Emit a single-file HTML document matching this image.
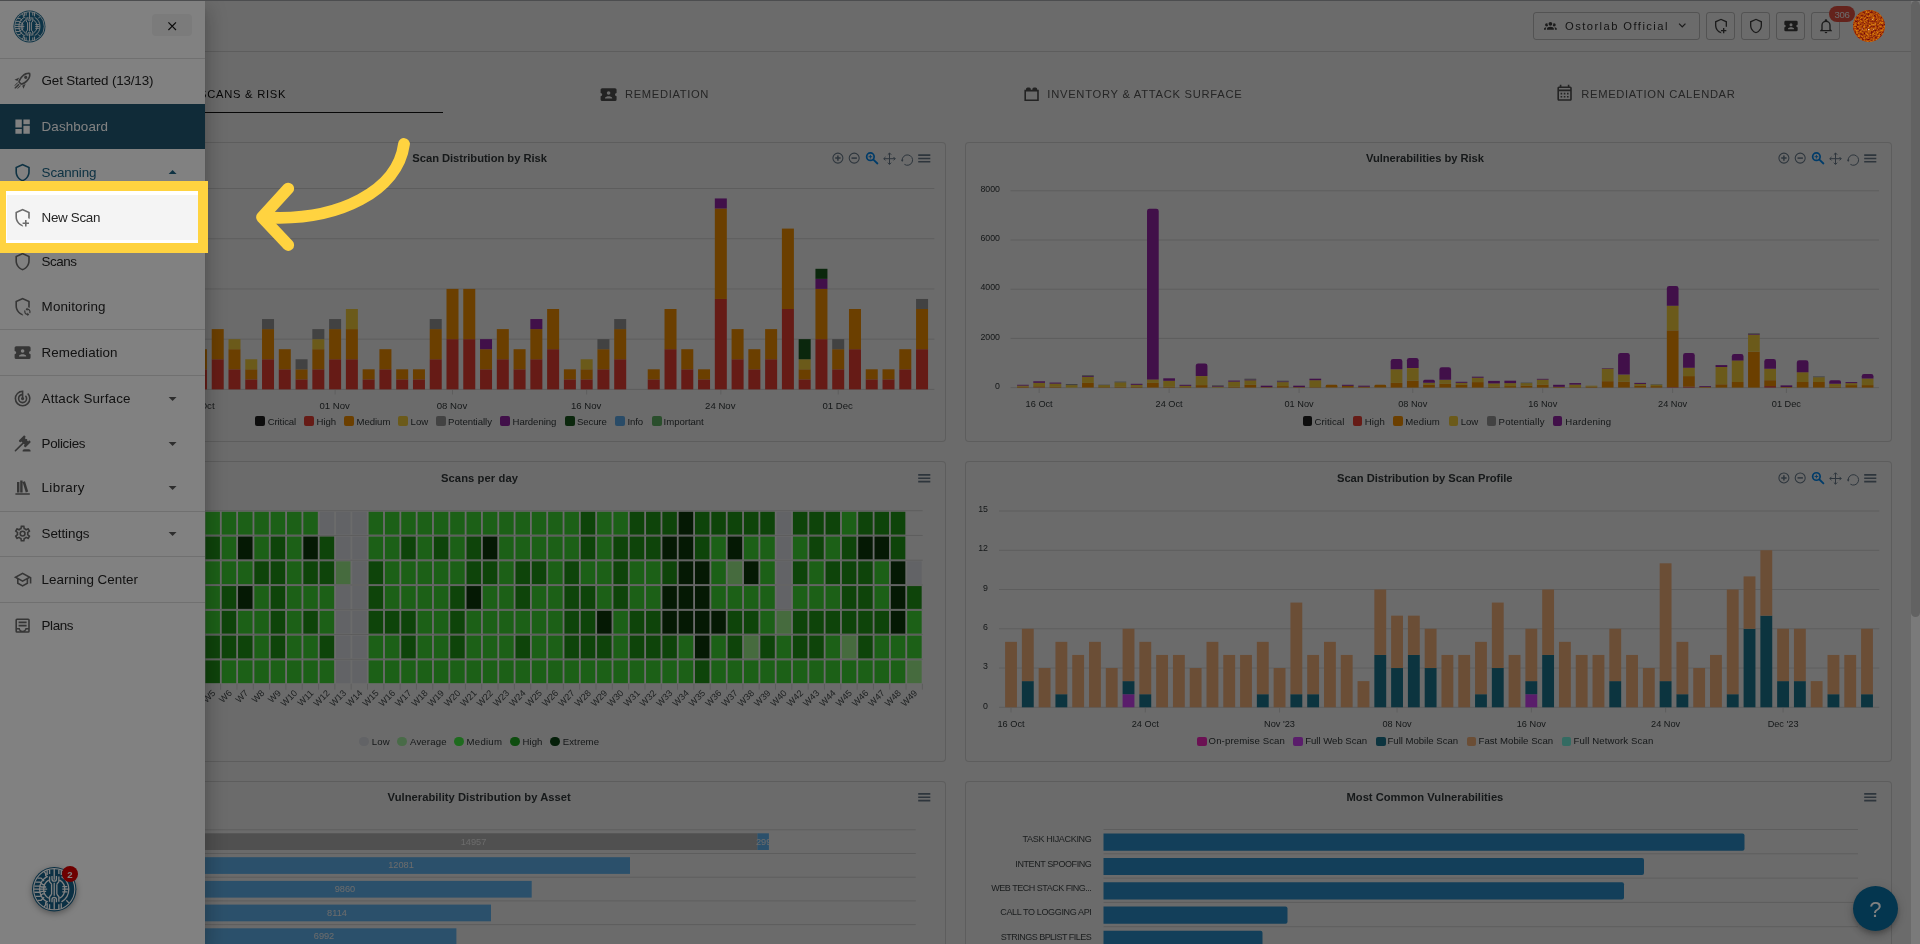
<!DOCTYPE html>
<html><head><meta charset="utf-8"><title>Dashboard</title>
<style>
html,body{margin:0;padding:0}
body{width:1920px;height:944px;overflow:hidden;position:relative;background:#fff;font-family:"Liberation Sans",sans-serif;}
div{box-sizing:content-box}
</style></head><body>
<div style="position:absolute;left:0;top:0;width:1911px;height:944px;overflow:hidden;background:#fff">
<div style="position:absolute;left:0.00px;top:0.00px;width:1911.00px;height:51.00px;background:#fff;"></div>
<div style="position:absolute;left:0.00px;top:51.00px;width:1911.00px;height:1.00px;background:rgba(0,0,0,.12);"></div>
<div style="position:absolute;left:1533px;top:11.5px;width:167px;height:28px;box-sizing:border-box;border:1px solid rgba(0,0,0,.22);border-radius:3px"></div>
<svg style="position:absolute;left:1544.10px;top:18.60px;" width="12.80" height="12.80" viewBox="0 0 24 24"><path fill="#424242" d="M12,5.5A3.5,3.5 0 0,1 15.5,9A3.5,3.5 0 0,1 12,12.5A3.5,3.5 0 0,1 8.5,9A3.5,3.5 0 0,1 12,5.5M5,8C5.56,8 6.08,8.15 6.53,8.42C6.38,9.85 6.8,11.27 7.66,12.38C7.16,13.34 6.16,14 5,14A3,3 0 0,1 2,11A3,3 0 0,1 5,8M19,8A3,3 0 0,1 22,11A3,3 0 0,1 19,14C17.84,14 16.84,13.34 16.34,12.38C17.2,11.27 17.62,9.85 17.47,8.42C17.92,8.15 18.44,8 19,8M5.5,18.25C5.5,16.18 8.41,14.5 12,14.5C15.59,14.5 18.5,16.18 18.5,18.25V20H5.5V18.25M0,20V18.5C0,17.11 1.89,15.94 4.45,15.6C3.86,16.28 3.5,17.22 3.5,18.25V20H0M24,20H20.5V18.25C20.5,17.22 20.14,16.28 19.55,15.6C22.11,15.94 24,17.11 24,18.5V20Z"/></svg>
<svg style="position:absolute;left:1674.75px;top:18.05px;" width="14.50" height="14.50" viewBox="0 0 24 24"><path fill="#424242" d="M7.41,8.58L12,13.17L16.59,8.58L18,10L12,16L6,10L7.41,8.58Z"/></svg>
<div style="position:absolute;left:1706.0px;top:11.5px;width:29px;height:28px;box-sizing:border-box;border:1px solid rgba(0,0,0,.22);border-radius:3px"></div>
<svg style="position:absolute;left:1712.60px;top:17.70px;" width="16.00" height="16.00" viewBox="0 0 24 24"><path fill="#424242" d="M19,20H17V23H15V20H12V18H15V15H17V18H20V20H19M12,1L3,5V11C3,16.55 6.84,21.74 12,23C12.3,22.93 12.6,22.84 12.9,22.74C12.3,22.2 11.8,21.55 11.5,20.8C8,19.6 5,15.35 5,11.22V6.3L12,3.18L19,6.3V11.22C19,11.75 18.95,12.3 18.85,12.83C19.55,12.97 20.2,13.24 20.8,13.62C20.93,12.75 21,11.88 21,11V5L12,1Z"/></svg>
<div style="position:absolute;left:1741.0px;top:11.5px;width:29px;height:28px;box-sizing:border-box;border:1px solid rgba(0,0,0,.22);border-radius:3px"></div>
<svg style="position:absolute;left:1747.60px;top:17.70px;" width="16.00" height="16.00" viewBox="0 0 24 24"><path fill="#424242" d="M21,11C21,16.55 17.16,21.74 12,23C6.84,21.74 3,16.55 3,11V5L12,1L21,5V11M12,21C15.75,20 19,15.54 19,11.22V6.3L12,3.18L5,6.3V11.22C5,15.54 8.25,20 12,21Z"/></svg>
<div style="position:absolute;left:1776.0px;top:11.5px;width:29px;height:28px;box-sizing:border-box;border:1px solid rgba(0,0,0,.22);border-radius:3px"></div>
<svg style="position:absolute;left:1782.60px;top:17.70px;" width="16.00" height="16.00" viewBox="0 0 24 24"><path fill="#424242" d="M20,12A2,2 0 0,0 22,14V18A2,2 0 0,1 20,20H4A2,2 0 0,1 2,18V14C3.11,14 4,13.11 4,12A2,2 0 0,0 2,10V6C2,4.89 2.9,4 4,4H20A2,2 0 0,1 22,6V10A2,2 0 0,0 20,12M16.5,16.25C16.5,14.75 13.5,14 12,14C10.5,14 7.5,14.75 7.5,16.25V17H16.5V16.25M12,12.25A2.25,2.25 0 0,0 14.25,10A2.25,2.25 0 0,0 12,7.75A2.25,2.25 0 0,0 9.75,10A2.25,2.25 0 0,0 12,12.25Z"/></svg>
<div style="position:absolute;left:1811.0px;top:11.5px;width:29px;height:28px;box-sizing:border-box;border:1px solid rgba(0,0,0,.22);border-radius:3px"></div>
<svg style="position:absolute;left:1817.60px;top:17.70px;" width="16.00" height="16.00" viewBox="0 0 24 24"><path fill="#424242" d="M10,21H14A2,2 0 0,1 12,23A2,2 0 0,1 10,21M21,19V20H3V19L5,17V11C5,7.9 7.03,5.17 10,4.29C10,4.19 10,4.1 10,4A2,2 0 0,1 12,2A2,2 0 0,1 14,4C14,4.1 14,4.19 14,4.29C16.97,5.17 19,7.9 19,11V17L21,19M17,11A5,5 0 0,0 12,6A5,5 0 0,0 7,11V18H17V11Z"/></svg>
<div style="position:absolute;left:1829.3px;top:6px;width:25.7px;height:15.8px;border-radius:8px;background:#F05545"></div>
<svg style="position:absolute;left:173.40px;top:84.40px;" width="19.20" height="19.20" viewBox="0 0 24 24"><path fill="#111" d="M22,21H2V3H4V19H6V10H10V19H12V6H16V19H18V14H22V21Z"/></svg>
<div style="position:absolute;left:17.00px;top:112.00px;width:426.00px;height:1.30px;background:#111;"></div>
<svg style="position:absolute;left:599.40px;top:84.60px;" width="19.20" height="19.20" viewBox="0 0 24 24"><path fill="#555" d="M20,12A2,2 0 0,0 22,14V18A2,2 0 0,1 20,20H4A2,2 0 0,1 2,18V14C3.11,14 4,13.11 4,12A2,2 0 0,0 2,10V6C2,4.89 2.9,4 4,4H20A2,2 0 0,1 22,6V10A2,2 0 0,0 20,12M16.5,16.25C16.5,14.75 13.5,14 12,14C10.5,14 7.5,14.75 7.5,16.25V17H16.5V16.25M12,12.25A2.25,2.25 0 0,0 14.25,10A2.25,2.25 0 0,0 12,7.75A2.25,2.25 0 0,0 9.75,10A2.25,2.25 0 0,0 12,12.25Z"/></svg>
<svg style="position:absolute;left:1021.90px;top:84.60px;" width="19.20" height="19.20" viewBox="0 0 24 24"><path fill="#555" d="M19,6V5A2,2 0 0,0 17,3H15A2,2 0 0,0 13,5V6H11V5A2,2 0 0,0 9,3H7A2,2 0 0,0 5,5V6H3V20H21V6M19,18H5V8H19Z"/></svg>
<svg style="position:absolute;left:1555.40px;top:84.40px;" width="19.20" height="19.20" viewBox="0 0 24 24"><path fill="#555" d="M7,11H9V13H7V11M21,5V19C21,20.11 20.11,21 19,21H5C3.89,21 3,20.1 3,19V5C3,3.9 3.9,3 5,3H6V1H8V3H16V1H18V3H19C20.11,3 21,3.9 21,5M5,7H19V5H5V7M19,19V9H5V19H19M15,13V11H17V13H15M11,13V11H13V13H11M7,15H9V17H7V15M15,17V15H17V17H15M11,17V15H13V17H11Z"/></svg>
<div style="position:absolute;left:17px;top:142px;width:929px;height:300px;box-sizing:border-box;border:1px solid rgba(0,0,0,.12);border-radius:4px;background:#fff"></div>
<div style="position:absolute;left:965px;top:142px;width:927px;height:300px;box-sizing:border-box;border:1px solid rgba(0,0,0,.12);border-radius:4px;background:#fff"></div>
<div style="position:absolute;left:17px;top:461px;width:929px;height:301px;box-sizing:border-box;border:1px solid rgba(0,0,0,.12);border-radius:4px;background:#fff"></div>
<div style="position:absolute;left:965px;top:461px;width:927px;height:301px;box-sizing:border-box;border:1px solid rgba(0,0,0,.12);border-radius:4px;background:#fff"></div>
<div style="position:absolute;left:17px;top:781px;width:929px;height:301px;box-sizing:border-box;border:1px solid rgba(0,0,0,.12);border-radius:4px;background:#fff"></div>
<div style="position:absolute;left:965px;top:781px;width:927px;height:301px;box-sizing:border-box;border:1px solid rgba(0,0,0,.12);border-radius:4px;background:#fff"></div>
<svg style="position:absolute;left:0;top:0" width="1911" height="944" viewBox="0 0 1911 944"><line x1="60.00" y1="188.50" x2="934.40" y2="188.50" stroke="#e0e0e0" stroke-width="1.00"/><line x1="60.00" y1="238.72" x2="934.40" y2="238.72" stroke="#e0e0e0" stroke-width="1.00"/><line x1="60.00" y1="288.94" x2="934.40" y2="288.94" stroke="#e0e0e0" stroke-width="1.00"/><line x1="60.00" y1="339.16" x2="934.40" y2="339.16" stroke="#e0e0e0" stroke-width="1.00"/><line x1="60.00" y1="389.38" x2="934.40" y2="389.38" stroke="#e0e0e0" stroke-width="1.00"/><rect x="194.95" y="369.30" width="12.00" height="20.10" fill="#F44336"/><rect x="194.95" y="349.20" width="12.00" height="20.10" fill="#FF9800"/><rect x="211.72" y="359.25" width="12.00" height="30.15" fill="#F44336"/><rect x="211.72" y="329.10" width="12.00" height="30.15" fill="#FF9800"/><rect x="228.49" y="369.30" width="12.00" height="20.10" fill="#F44336"/><rect x="228.49" y="349.20" width="12.00" height="20.10" fill="#FF9800"/><rect x="228.49" y="339.15" width="12.00" height="10.05" fill="#FFD740"/><rect x="245.26" y="379.35" width="12.00" height="10.05" fill="#F44336"/><rect x="245.26" y="369.30" width="12.00" height="10.05" fill="#FF9800"/><rect x="245.26" y="359.25" width="12.00" height="10.05" fill="#FFD740"/><rect x="262.03" y="359.25" width="12.00" height="30.15" fill="#F44336"/><rect x="262.03" y="329.10" width="12.00" height="30.15" fill="#FF9800"/><rect x="262.03" y="319.05" width="12.00" height="10.05" fill="#9E9E9E"/><rect x="278.80" y="369.30" width="12.00" height="20.10" fill="#F44336"/><rect x="278.80" y="349.20" width="12.00" height="20.10" fill="#FF9800"/><rect x="295.57" y="379.35" width="12.00" height="10.05" fill="#F44336"/><rect x="295.57" y="369.30" width="12.00" height="10.05" fill="#FF9800"/><rect x="295.57" y="359.25" width="12.00" height="10.05" fill="#9E9E9E"/><rect x="312.34" y="369.30" width="12.00" height="20.10" fill="#F44336"/><rect x="312.34" y="349.20" width="12.00" height="20.10" fill="#FF9800"/><rect x="312.34" y="339.15" width="12.00" height="10.05" fill="#FFD740"/><rect x="312.34" y="329.10" width="12.00" height="10.05" fill="#9E9E9E"/><rect x="329.11" y="359.25" width="12.00" height="30.15" fill="#F44336"/><rect x="329.11" y="329.10" width="12.00" height="30.15" fill="#FF9800"/><rect x="329.11" y="319.05" width="12.00" height="10.05" fill="#9E9E9E"/><rect x="345.88" y="359.25" width="12.00" height="30.15" fill="#F44336"/><rect x="345.88" y="329.10" width="12.00" height="30.15" fill="#FF9800"/><rect x="345.88" y="309.00" width="12.00" height="20.10" fill="#FFD740"/><rect x="362.65" y="379.35" width="12.00" height="10.05" fill="#F44336"/><rect x="362.65" y="369.30" width="12.00" height="10.05" fill="#FF9800"/><rect x="379.42" y="369.30" width="12.00" height="20.10" fill="#F44336"/><rect x="379.42" y="349.20" width="12.00" height="20.10" fill="#FF9800"/><rect x="396.19" y="379.35" width="12.00" height="10.05" fill="#F44336"/><rect x="396.19" y="369.30" width="12.00" height="10.05" fill="#FF9800"/><rect x="412.96" y="379.35" width="12.00" height="10.05" fill="#F44336"/><rect x="412.96" y="369.30" width="12.00" height="10.05" fill="#FF9800"/><rect x="429.73" y="359.25" width="12.00" height="30.15" fill="#F44336"/><rect x="429.73" y="329.10" width="12.00" height="30.15" fill="#FF9800"/><rect x="429.73" y="319.05" width="12.00" height="10.05" fill="#9E9E9E"/><rect x="446.50" y="339.15" width="12.00" height="50.25" fill="#F44336"/><rect x="446.50" y="288.90" width="12.00" height="50.25" fill="#FF9800"/><rect x="463.27" y="339.15" width="12.00" height="50.25" fill="#F44336"/><rect x="463.27" y="288.90" width="12.00" height="50.25" fill="#FF9800"/><rect x="480.04" y="369.30" width="12.00" height="20.10" fill="#F44336"/><rect x="480.04" y="349.20" width="12.00" height="20.10" fill="#FF9800"/><rect x="480.04" y="339.15" width="12.00" height="10.05" fill="#9C27B0"/><rect x="496.81" y="359.25" width="12.00" height="30.15" fill="#F44336"/><rect x="496.81" y="329.10" width="12.00" height="30.15" fill="#FF9800"/><rect x="513.58" y="369.30" width="12.00" height="20.10" fill="#F44336"/><rect x="513.58" y="349.20" width="12.00" height="20.10" fill="#FF9800"/><rect x="530.35" y="359.25" width="12.00" height="30.15" fill="#F44336"/><rect x="530.35" y="329.10" width="12.00" height="30.15" fill="#FF9800"/><rect x="530.35" y="319.05" width="12.00" height="10.05" fill="#9C27B0"/><rect x="547.12" y="349.20" width="12.00" height="40.20" fill="#F44336"/><rect x="547.12" y="309.00" width="12.00" height="40.20" fill="#FF9800"/><rect x="563.89" y="379.35" width="12.00" height="10.05" fill="#F44336"/><rect x="563.89" y="369.30" width="12.00" height="10.05" fill="#FF9800"/><rect x="580.66" y="379.35" width="12.00" height="10.05" fill="#F44336"/><rect x="580.66" y="369.30" width="12.00" height="10.05" fill="#FF9800"/><rect x="580.66" y="359.25" width="12.00" height="10.05" fill="#FFD740"/><rect x="597.43" y="369.30" width="12.00" height="20.10" fill="#F44336"/><rect x="597.43" y="349.20" width="12.00" height="20.10" fill="#FF9800"/><rect x="597.43" y="339.15" width="12.00" height="10.05" fill="#9E9E9E"/><rect x="614.20" y="359.25" width="12.00" height="30.15" fill="#F44336"/><rect x="614.20" y="329.10" width="12.00" height="30.15" fill="#FF9800"/><rect x="614.20" y="319.05" width="12.00" height="10.05" fill="#9E9E9E"/><rect x="647.74" y="379.35" width="12.00" height="10.05" fill="#F44336"/><rect x="647.74" y="369.30" width="12.00" height="10.05" fill="#FF9800"/><rect x="664.51" y="349.20" width="12.00" height="40.20" fill="#F44336"/><rect x="664.51" y="309.00" width="12.00" height="40.20" fill="#FF9800"/><rect x="681.28" y="369.30" width="12.00" height="20.10" fill="#F44336"/><rect x="681.28" y="349.20" width="12.00" height="20.10" fill="#FF9800"/><rect x="698.05" y="379.35" width="12.00" height="10.05" fill="#F44336"/><rect x="698.05" y="369.30" width="12.00" height="10.05" fill="#FF9800"/><rect x="714.82" y="298.95" width="12.00" height="90.45" fill="#F44336"/><rect x="714.82" y="208.50" width="12.00" height="90.45" fill="#FF9800"/><rect x="714.82" y="198.45" width="12.00" height="10.05" fill="#9C27B0"/><rect x="731.59" y="359.25" width="12.00" height="30.15" fill="#F44336"/><rect x="731.59" y="329.10" width="12.00" height="30.15" fill="#FF9800"/><rect x="748.36" y="369.30" width="12.00" height="20.10" fill="#F44336"/><rect x="748.36" y="349.20" width="12.00" height="20.10" fill="#FF9800"/><rect x="765.13" y="359.25" width="12.00" height="30.15" fill="#F44336"/><rect x="765.13" y="329.10" width="12.00" height="30.15" fill="#FF9800"/><rect x="781.90" y="309.00" width="12.00" height="80.40" fill="#F44336"/><rect x="781.90" y="228.60" width="12.00" height="80.40" fill="#FF9800"/><rect x="798.67" y="379.35" width="12.00" height="10.05" fill="#F44336"/><rect x="798.67" y="369.30" width="12.00" height="10.05" fill="#FF9800"/><rect x="798.67" y="359.25" width="12.00" height="10.05" fill="#FFD740"/><rect x="798.67" y="339.15" width="12.00" height="20.10" fill="#1B5E20"/><rect x="815.44" y="339.15" width="12.00" height="50.25" fill="#F44336"/><rect x="815.44" y="288.90" width="12.00" height="50.25" fill="#FF9800"/><rect x="815.44" y="278.85" width="12.00" height="10.05" fill="#9C27B0"/><rect x="815.44" y="268.80" width="12.00" height="10.05" fill="#1B5E20"/><rect x="832.21" y="369.30" width="12.00" height="20.10" fill="#F44336"/><rect x="832.21" y="349.20" width="12.00" height="20.10" fill="#FF9800"/><rect x="832.21" y="339.15" width="12.00" height="10.05" fill="#9E9E9E"/><rect x="848.98" y="349.20" width="12.00" height="40.20" fill="#F44336"/><rect x="848.98" y="309.00" width="12.00" height="40.20" fill="#FF9800"/><rect x="865.75" y="379.35" width="12.00" height="10.05" fill="#F44336"/><rect x="865.75" y="369.30" width="12.00" height="10.05" fill="#FF9800"/><rect x="882.52" y="379.35" width="12.00" height="10.05" fill="#F44336"/><rect x="882.52" y="369.30" width="12.00" height="10.05" fill="#FF9800"/><rect x="899.29" y="369.30" width="12.00" height="20.10" fill="#F44336"/><rect x="899.29" y="349.20" width="12.00" height="20.10" fill="#FF9800"/><rect x="916.06" y="349.20" width="12.00" height="40.20" fill="#F44336"/><rect x="916.06" y="309.00" width="12.00" height="40.20" fill="#FF9800"/><rect x="916.06" y="298.95" width="12.00" height="10.05" fill="#9E9E9E"/><line x1="200.95" y1="390.00" x2="200.95" y2="394.50" stroke="#e0e0e0" stroke-width="1.00"/><line x1="335.11" y1="390.00" x2="335.11" y2="394.50" stroke="#e0e0e0" stroke-width="1.00"/><line x1="452.50" y1="390.00" x2="452.50" y2="394.50" stroke="#e0e0e0" stroke-width="1.00"/><line x1="586.66" y1="390.00" x2="586.66" y2="394.50" stroke="#e0e0e0" stroke-width="1.00"/><line x1="720.82" y1="390.00" x2="720.82" y2="394.50" stroke="#e0e0e0" stroke-width="1.00"/><line x1="838.21" y1="390.00" x2="838.21" y2="394.50" stroke="#e0e0e0" stroke-width="1.00"/><line x1="1010.50" y1="190.80" x2="1879.00" y2="190.80" stroke="#e0e0e0" stroke-width="1.00"/><line x1="1010.50" y1="240.00" x2="1879.00" y2="240.00" stroke="#e0e0e0" stroke-width="1.00"/><line x1="1010.50" y1="289.20" x2="1879.00" y2="289.20" stroke="#e0e0e0" stroke-width="1.00"/><line x1="1010.50" y1="338.40" x2="1879.00" y2="338.40" stroke="#e0e0e0" stroke-width="1.00"/><line x1="1010.50" y1="387.60" x2="1879.00" y2="387.60" stroke="#e0e0e0" stroke-width="1.00"/><rect x="1017.07" y="386.60" width="11.70" height="1.00" fill="#FF9800"/><rect x="1017.07" y="385.60" width="11.70" height="1.00" fill="#FFD740"/><rect x="1017.07" y="384.80" width="11.70" height="0.80" fill="#9C27B0"/><rect x="1033.31" y="387.30" width="11.70" height="0.30" fill="#F44336"/><rect x="1033.31" y="386.30" width="11.70" height="1.00" fill="#FF9800"/><rect x="1033.31" y="382.80" width="11.70" height="3.50" fill="#FFD740"/><rect x="1033.31" y="381.30" width="11.70" height="1.50" fill="#9C27B0"/><rect x="1049.56" y="386.60" width="11.70" height="1.00" fill="#FF9800"/><rect x="1049.56" y="383.60" width="11.70" height="3.00" fill="#FFD740"/><rect x="1049.56" y="382.60" width="11.70" height="1.00" fill="#9C27B0"/><rect x="1065.80" y="385.10" width="11.70" height="2.50" fill="#FFD740"/><rect x="1065.80" y="384.00" width="11.70" height="1.10" fill="#9E9E9E"/><rect x="1082.05" y="382.90" width="11.70" height="4.70" fill="#FF9800"/><rect x="1082.05" y="376.90" width="11.70" height="6.00" fill="#FFD740"/><rect x="1082.05" y="376.10" width="11.70" height="0.80" fill="#9C27B0"/><rect x="1082.05" y="375.20" width="11.70" height="0.90" fill="#9E9E9E"/><rect x="1098.29" y="387.10" width="11.70" height="0.50" fill="#FF9800"/><rect x="1098.29" y="385.10" width="11.70" height="2.00" fill="#FFD740"/><rect x="1098.29" y="384.70" width="11.70" height="0.40" fill="#9E9E9E"/><rect x="1114.53" y="386.80" width="11.70" height="0.80" fill="#FF9800"/><rect x="1114.53" y="382.30" width="11.70" height="4.50" fill="#FFD740"/><rect x="1114.53" y="381.60" width="11.70" height="0.70" fill="#9E9E9E"/><rect x="1130.78" y="386.80" width="11.70" height="0.80" fill="#FF9800"/><rect x="1130.78" y="384.80" width="11.70" height="2.00" fill="#FFD740"/><rect x="1130.78" y="383.80" width="11.70" height="1.00" fill="#9C27B0"/><rect x="1147.02" y="382.90" width="11.70" height="4.70" fill="#FF9800"/><rect x="1147.02" y="379.40" width="11.70" height="3.50" fill="#FFD740"/><path shape-rendering="geometricPrecision" fill="#9C27B0" d="M1147.02,379.40V211.10Q1147.02,208.70 1149.42,208.70H1156.32Q1158.72,208.70 1158.72,211.10V379.40Z"/><rect x="1163.27" y="386.80" width="11.70" height="0.80" fill="#FF9800"/><rect x="1163.27" y="380.80" width="11.70" height="6.00" fill="#FFD740"/><rect x="1163.27" y="378.30" width="11.70" height="2.50" fill="#9C27B0"/><rect x="1179.51" y="387.10" width="11.70" height="0.50" fill="#FF9800"/><rect x="1179.51" y="385.80" width="11.70" height="1.30" fill="#FFD740"/><rect x="1179.51" y="384.80" width="11.70" height="1.00" fill="#9C27B0"/><rect x="1195.75" y="385.10" width="11.70" height="2.50" fill="#FF9800"/><rect x="1195.75" y="376.10" width="11.70" height="9.00" fill="#FFD740"/><path shape-rendering="geometricPrecision" fill="#9C27B0" d="M1195.75,376.10V365.80Q1195.75,363.40 1198.15,363.40H1205.05Q1207.45,363.40 1207.45,365.80V376.10Z"/><rect x="1212.00" y="386.60" width="11.70" height="1.00" fill="#FFD740"/><rect x="1212.00" y="385.90" width="11.70" height="0.70" fill="#9C27B0"/><rect x="1212.00" y="385.30" width="11.70" height="0.60" fill="#9E9E9E"/><rect x="1228.24" y="386.80" width="11.70" height="0.80" fill="#FF9800"/><rect x="1228.24" y="381.60" width="11.70" height="5.20" fill="#FFD740"/><rect x="1228.24" y="380.60" width="11.70" height="1.00" fill="#9C27B0"/><rect x="1244.49" y="384.80" width="11.70" height="2.80" fill="#FF9800"/><rect x="1244.49" y="380.30" width="11.70" height="4.50" fill="#FFD740"/><rect x="1244.49" y="379.50" width="11.70" height="0.80" fill="#9C27B0"/><rect x="1244.49" y="378.70" width="11.70" height="0.80" fill="#9E9E9E"/><rect x="1260.73" y="387.10" width="11.70" height="0.50" fill="#FF9800"/><rect x="1260.73" y="385.70" width="11.70" height="1.40" fill="#9C27B0"/><rect x="1276.97" y="386.10" width="11.70" height="1.50" fill="#FF9800"/><rect x="1276.97" y="382.10" width="11.70" height="4.00" fill="#FFD740"/><rect x="1276.97" y="381.40" width="11.70" height="0.70" fill="#9C27B0"/><rect x="1276.97" y="380.70" width="11.70" height="0.70" fill="#9E9E9E"/><rect x="1293.22" y="387.10" width="11.70" height="0.50" fill="#FF9800"/><rect x="1293.22" y="385.70" width="11.70" height="1.40" fill="#9C27B0"/><rect x="1309.46" y="387.10" width="11.70" height="0.50" fill="#FF9800"/><rect x="1309.46" y="380.20" width="11.70" height="6.90" fill="#FFD740"/><rect x="1309.46" y="378.70" width="11.70" height="1.50" fill="#9C27B0"/><path shape-rendering="geometricPrecision" fill="#FF9800" d="M1325.71,387.60V386.20Q1325.71,384.80 1327.11,384.80H1336.01Q1337.41,384.80 1337.41,386.20V387.60Z"/><rect x="1341.95" y="385.80" width="11.70" height="1.80" fill="#FF9800"/><rect x="1341.95" y="384.80" width="11.70" height="1.00" fill="#9C27B0"/><rect x="1358.19" y="386.70" width="11.70" height="0.90" fill="#FF9800"/><rect x="1358.19" y="385.70" width="11.70" height="1.00" fill="#9C27B0"/><path shape-rendering="geometricPrecision" fill="#FF9800" d="M1374.44,387.60V386.20Q1374.44,384.80 1375.84,384.80H1384.74Q1386.14,384.80 1386.14,386.20V387.60Z"/><rect x="1390.68" y="382.90" width="11.70" height="4.70" fill="#FF9800"/><rect x="1390.68" y="369.30" width="11.70" height="13.60" fill="#FFD740"/><path shape-rendering="geometricPrecision" fill="#9C27B0" d="M1390.68,369.30V361.40Q1390.68,359.00 1393.08,359.00H1399.98Q1402.38,359.00 1402.38,361.40V369.30Z"/><rect x="1406.93" y="380.60" width="11.70" height="7.00" fill="#FF9800"/><rect x="1406.93" y="368.10" width="11.70" height="12.50" fill="#FFD740"/><path shape-rendering="geometricPrecision" fill="#9C27B0" d="M1406.93,368.10V360.30Q1406.93,357.90 1409.33,357.90H1416.23Q1418.63,357.90 1418.63,360.30V368.10Z"/><rect x="1423.17" y="384.80" width="11.70" height="2.80" fill="#FF9800"/><rect x="1423.17" y="382.80" width="11.70" height="2.00" fill="#FFD740"/><path shape-rendering="geometricPrecision" fill="#9C27B0" d="M1423.17,382.80V381.30Q1423.17,379.80 1424.67,379.80H1433.37Q1434.87,379.80 1434.87,381.30V382.80Z"/><rect x="1439.41" y="383.85" width="11.70" height="3.75" fill="#FF9800"/><rect x="1439.41" y="379.85" width="11.70" height="4.00" fill="#FFD740"/><path shape-rendering="geometricPrecision" fill="#9C27B0" d="M1439.41,379.85V369.75Q1439.41,367.35 1441.81,367.35H1448.71Q1451.11,367.35 1451.11,369.75V379.85Z"/><rect x="1455.66" y="384.80" width="11.70" height="2.80" fill="#FF9800"/><rect x="1455.66" y="382.80" width="11.70" height="2.00" fill="#FFD740"/><rect x="1455.66" y="381.80" width="11.70" height="1.00" fill="#9C27B0"/><rect x="1471.90" y="382.10" width="11.70" height="5.50" fill="#FF9800"/><rect x="1471.90" y="377.70" width="11.70" height="4.40" fill="#FFD740"/><rect x="1471.90" y="376.70" width="11.70" height="1.00" fill="#9C27B0"/><rect x="1488.15" y="386.60" width="11.70" height="1.00" fill="#FF9800"/><rect x="1488.15" y="383.40" width="11.70" height="3.20" fill="#FFD740"/><rect x="1488.15" y="380.90" width="11.70" height="2.50" fill="#9C27B0"/><rect x="1504.39" y="386.10" width="11.70" height="1.50" fill="#FF9800"/><rect x="1504.39" y="383.10" width="11.70" height="3.00" fill="#FFD740"/><rect x="1504.39" y="380.70" width="11.70" height="2.40" fill="#9C27B0"/><rect x="1520.63" y="385.60" width="11.70" height="2.00" fill="#FF9800"/><rect x="1520.63" y="383.10" width="11.70" height="2.50" fill="#FFD740"/><rect x="1520.63" y="382.60" width="11.70" height="0.50" fill="#9E9E9E"/><rect x="1536.88" y="384.80" width="11.70" height="2.80" fill="#FF9800"/><rect x="1536.88" y="379.60" width="11.70" height="5.20" fill="#FFD740"/><rect x="1536.88" y="378.85" width="11.70" height="0.75" fill="#9C27B0"/><rect x="1553.12" y="386.80" width="11.70" height="0.80" fill="#FF9800"/><rect x="1553.12" y="384.80" width="11.70" height="2.00" fill="#9C27B0"/><rect x="1569.37" y="387.10" width="11.70" height="0.50" fill="#FF9800"/><rect x="1569.37" y="384.60" width="11.70" height="2.50" fill="#FFD740"/><rect x="1569.37" y="383.10" width="11.70" height="1.50" fill="#9C27B0"/><rect x="1585.61" y="386.60" width="11.70" height="1.00" fill="#FF9800"/><rect x="1585.61" y="385.70" width="11.70" height="0.90" fill="#FFD740"/><rect x="1601.85" y="381.20" width="11.70" height="6.40" fill="#FF9800"/><rect x="1601.85" y="368.70" width="11.70" height="12.50" fill="#FFD740"/><rect x="1601.85" y="368.20" width="11.70" height="0.50" fill="#9C27B0"/><rect x="1618.10" y="381.80" width="11.70" height="5.80" fill="#FF9800"/><rect x="1618.10" y="374.60" width="11.70" height="7.20" fill="#FFD740"/><path shape-rendering="geometricPrecision" fill="#9C27B0" d="M1618.10,374.60V355.30Q1618.10,352.90 1620.50,352.90H1627.40Q1629.80,352.90 1629.80,355.30V374.60Z"/><rect x="1634.34" y="385.60" width="11.70" height="2.00" fill="#FF9800"/><rect x="1634.34" y="383.90" width="11.70" height="1.70" fill="#FFD740"/><rect x="1634.34" y="382.90" width="11.70" height="1.00" fill="#9C27B0"/><rect x="1650.59" y="386.10" width="11.70" height="1.50" fill="#FF9800"/><rect x="1650.59" y="384.60" width="11.70" height="1.50" fill="#FFD740"/><rect x="1650.59" y="384.20" width="11.70" height="0.40" fill="#9E9E9E"/><rect x="1666.83" y="387.10" width="11.70" height="0.50" fill="#F44336"/><rect x="1666.83" y="330.40" width="11.70" height="56.70" fill="#FF9800"/><rect x="1666.83" y="305.70" width="11.70" height="24.70" fill="#FFD740"/><path shape-rendering="geometricPrecision" fill="#9C27B0" d="M1666.83,305.70V288.40Q1666.83,286.00 1669.23,286.00H1676.13Q1678.53,286.00 1678.53,288.40V305.70Z"/><rect x="1683.07" y="386.60" width="11.70" height="1.00" fill="#F44336"/><rect x="1683.07" y="376.10" width="11.70" height="10.50" fill="#FF9800"/><rect x="1683.07" y="367.70" width="11.70" height="8.40" fill="#FFD740"/><path shape-rendering="geometricPrecision" fill="#9C27B0" d="M1683.07,367.70V355.40Q1683.07,353.00 1685.47,353.00H1692.37Q1694.77,353.00 1694.77,355.40V367.70Z"/><rect x="1699.32" y="386.90" width="11.70" height="0.70" fill="#FF9800"/><rect x="1699.32" y="386.10" width="11.70" height="0.80" fill="#9C27B0"/><rect x="1715.56" y="384.30" width="11.70" height="3.30" fill="#FF9800"/><rect x="1715.56" y="367.00" width="11.70" height="17.30" fill="#FFD740"/><rect x="1715.56" y="365.10" width="11.70" height="1.90" fill="#9C27B0"/><rect x="1731.81" y="382.00" width="11.70" height="5.60" fill="#FF9800"/><rect x="1731.81" y="360.40" width="11.70" height="21.60" fill="#FFD740"/><path shape-rendering="geometricPrecision" fill="#9C27B0" d="M1731.81,360.40V356.40Q1731.81,354.00 1734.21,354.00H1741.11Q1743.51,354.00 1743.51,356.40V360.40Z"/><rect x="1748.05" y="351.70" width="11.70" height="35.90" fill="#FF9800"/><rect x="1748.05" y="334.70" width="11.70" height="17.00" fill="#FFD740"/><rect x="1748.05" y="334.10" width="11.70" height="0.60" fill="#9C27B0"/><rect x="1748.05" y="333.30" width="11.70" height="0.80" fill="#9E9E9E"/><rect x="1764.29" y="386.10" width="11.70" height="1.50" fill="#F44336"/><rect x="1764.29" y="380.20" width="11.70" height="5.90" fill="#FF9800"/><rect x="1764.29" y="368.80" width="11.70" height="11.40" fill="#FFD740"/><path shape-rendering="geometricPrecision" fill="#9C27B0" d="M1764.29,368.80V361.50Q1764.29,359.10 1766.69,359.10H1773.59Q1775.99,359.10 1775.99,361.50V368.80Z"/><rect x="1780.54" y="387.00" width="11.70" height="0.60" fill="#FF9800"/><rect x="1780.54" y="385.40" width="11.70" height="1.60" fill="#9C27B0"/><rect x="1796.78" y="382.00" width="11.70" height="5.60" fill="#FF9800"/><rect x="1796.78" y="372.20" width="11.70" height="9.80" fill="#FFD740"/><path shape-rendering="geometricPrecision" fill="#9C27B0" d="M1796.78,372.20V362.70Q1796.78,360.30 1799.18,360.30H1806.08Q1808.48,360.30 1808.48,362.70V372.20Z"/><rect x="1813.03" y="382.00" width="11.70" height="5.60" fill="#FF9800"/><rect x="1813.03" y="377.20" width="11.70" height="4.80" fill="#FFD740"/><rect x="1813.03" y="376.40" width="11.70" height="0.80" fill="#9E9E9E"/><rect x="1829.27" y="386.80" width="11.70" height="0.80" fill="#FF9800"/><rect x="1829.27" y="383.80" width="11.70" height="3.00" fill="#FFD740"/><path shape-rendering="geometricPrecision" fill="#9C27B0" d="M1829.27,383.80V382.05Q1829.27,380.30 1831.02,380.30H1839.22Q1840.97,380.30 1840.97,382.05V383.80Z"/><rect x="1845.51" y="385.10" width="11.70" height="2.50" fill="#FF9800"/><rect x="1845.51" y="383.10" width="11.70" height="2.00" fill="#FFD740"/><rect x="1845.51" y="382.10" width="11.70" height="1.00" fill="#9C27B0"/><rect x="1861.76" y="385.10" width="11.70" height="2.50" fill="#FF9800"/><rect x="1861.76" y="378.50" width="11.70" height="6.60" fill="#FFD740"/><path shape-rendering="geometricPrecision" fill="#9C27B0" d="M1861.76,378.50V376.25Q1861.76,374.00 1864.01,374.00H1871.21Q1873.46,374.00 1873.46,376.25V378.50Z"/><line x1="1039.16" y1="388.20" x2="1039.16" y2="393.00" stroke="#e0e0e0" stroke-width="1.00"/><line x1="1169.12" y1="388.20" x2="1169.12" y2="393.00" stroke="#e0e0e0" stroke-width="1.00"/><line x1="1299.07" y1="388.20" x2="1299.07" y2="393.00" stroke="#e0e0e0" stroke-width="1.00"/><line x1="1412.78" y1="388.20" x2="1412.78" y2="393.00" stroke="#e0e0e0" stroke-width="1.00"/><line x1="1542.73" y1="388.20" x2="1542.73" y2="393.00" stroke="#e0e0e0" stroke-width="1.00"/><line x1="1672.68" y1="388.20" x2="1672.68" y2="393.00" stroke="#e0e0e0" stroke-width="1.00"/><line x1="1786.39" y1="388.20" x2="1786.39" y2="393.00" stroke="#e0e0e0" stroke-width="1.00"/><line x1="60.00" y1="510.70" x2="922.70" y2="510.70" stroke="#e0e0e0" stroke-width="1.00"/><line x1="60.00" y1="535.46" x2="922.70" y2="535.46" stroke="#e0e0e0" stroke-width="1.00"/><line x1="60.00" y1="560.22" x2="922.70" y2="560.22" stroke="#e0e0e0" stroke-width="1.00"/><line x1="60.00" y1="584.98" x2="922.70" y2="584.98" stroke="#e0e0e0" stroke-width="1.00"/><line x1="60.00" y1="609.74" x2="922.70" y2="609.74" stroke="#e0e0e0" stroke-width="1.00"/><line x1="60.00" y1="634.50" x2="922.70" y2="634.50" stroke="#e0e0e0" stroke-width="1.00"/><line x1="60.00" y1="659.26" x2="922.70" y2="659.26" stroke="#e0e0e0" stroke-width="1.00"/><rect x="205.40" y="511.80" width="14.50" height="22.80" fill="#45e739" shape-rendering="geometricPrecision"/><rect x="205.40" y="536.56" width="14.50" height="22.80" fill="#24a21a" shape-rendering="geometricPrecision"/><rect x="205.40" y="561.32" width="14.50" height="22.80" fill="#45e739" shape-rendering="geometricPrecision"/><rect x="205.40" y="586.08" width="14.50" height="22.80" fill="#45e739" shape-rendering="geometricPrecision"/><rect x="205.40" y="610.84" width="14.50" height="22.80" fill="#45e739" shape-rendering="geometricPrecision"/><rect x="205.40" y="635.60" width="14.50" height="22.80" fill="#24a21a" shape-rendering="geometricPrecision"/><rect x="205.40" y="660.36" width="14.50" height="22.80" fill="#24a21a" shape-rendering="geometricPrecision"/><line x1="204.30" y1="683.70" x2="204.30" y2="689.70" stroke="#e0e0e0" stroke-width="1.00"/><rect x="221.72" y="511.80" width="14.50" height="22.80" fill="#45e739" shape-rendering="geometricPrecision"/><rect x="221.72" y="536.56" width="14.50" height="22.80" fill="#45e739" shape-rendering="geometricPrecision"/><rect x="221.72" y="561.32" width="14.50" height="22.80" fill="#45e739" shape-rendering="geometricPrecision"/><rect x="221.72" y="586.08" width="14.50" height="22.80" fill="#24a21a" shape-rendering="geometricPrecision"/><rect x="221.72" y="610.84" width="14.50" height="22.80" fill="#24a21a" shape-rendering="geometricPrecision"/><rect x="221.72" y="635.60" width="14.50" height="22.80" fill="#24a21a" shape-rendering="geometricPrecision"/><rect x="221.72" y="660.36" width="14.50" height="22.80" fill="#45e739" shape-rendering="geometricPrecision"/><line x1="220.62" y1="683.70" x2="220.62" y2="689.70" stroke="#e0e0e0" stroke-width="1.00"/><rect x="238.04" y="511.80" width="14.50" height="22.80" fill="#45e739" shape-rendering="geometricPrecision"/><rect x="238.04" y="536.56" width="14.50" height="22.80" fill="#0e3e0c" shape-rendering="geometricPrecision"/><rect x="238.04" y="561.32" width="14.50" height="22.80" fill="#45e739" shape-rendering="geometricPrecision"/><rect x="238.04" y="586.08" width="14.50" height="22.80" fill="#0e3e0c" shape-rendering="geometricPrecision"/><rect x="238.04" y="610.84" width="14.50" height="22.80" fill="#45e739" shape-rendering="geometricPrecision"/><rect x="238.04" y="635.60" width="14.50" height="22.80" fill="#24a21a" shape-rendering="geometricPrecision"/><rect x="238.04" y="660.36" width="14.50" height="22.80" fill="#45e739" shape-rendering="geometricPrecision"/><line x1="236.94" y1="683.70" x2="236.94" y2="689.70" stroke="#e0e0e0" stroke-width="1.00"/><rect x="254.36" y="511.80" width="14.50" height="22.80" fill="#45e739" shape-rendering="geometricPrecision"/><rect x="254.36" y="536.56" width="14.50" height="22.80" fill="#45e739" shape-rendering="geometricPrecision"/><rect x="254.36" y="561.32" width="14.50" height="22.80" fill="#24a21a" shape-rendering="geometricPrecision"/><rect x="254.36" y="586.08" width="14.50" height="22.80" fill="#45e739" shape-rendering="geometricPrecision"/><rect x="254.36" y="610.84" width="14.50" height="22.80" fill="#45e739" shape-rendering="geometricPrecision"/><rect x="254.36" y="635.60" width="14.50" height="22.80" fill="#45e739" shape-rendering="geometricPrecision"/><rect x="254.36" y="660.36" width="14.50" height="22.80" fill="#45e739" shape-rendering="geometricPrecision"/><line x1="253.26" y1="683.70" x2="253.26" y2="689.70" stroke="#e0e0e0" stroke-width="1.00"/><rect x="270.68" y="511.80" width="14.50" height="22.80" fill="#45e739" shape-rendering="geometricPrecision"/><rect x="270.68" y="536.56" width="14.50" height="22.80" fill="#24a21a" shape-rendering="geometricPrecision"/><rect x="270.68" y="561.32" width="14.50" height="22.80" fill="#24a21a" shape-rendering="geometricPrecision"/><rect x="270.68" y="586.08" width="14.50" height="22.80" fill="#24a21a" shape-rendering="geometricPrecision"/><rect x="270.68" y="610.84" width="14.50" height="22.80" fill="#24a21a" shape-rendering="geometricPrecision"/><rect x="270.68" y="635.60" width="14.50" height="22.80" fill="#24a21a" shape-rendering="geometricPrecision"/><rect x="270.68" y="660.36" width="14.50" height="22.80" fill="#45e739" shape-rendering="geometricPrecision"/><line x1="269.58" y1="683.70" x2="269.58" y2="689.70" stroke="#e0e0e0" stroke-width="1.00"/><rect x="287.00" y="511.80" width="14.50" height="22.80" fill="#45e739" shape-rendering="geometricPrecision"/><rect x="287.00" y="536.56" width="14.50" height="22.80" fill="#45e739" shape-rendering="geometricPrecision"/><rect x="287.00" y="561.32" width="14.50" height="22.80" fill="#45e739" shape-rendering="geometricPrecision"/><rect x="287.00" y="586.08" width="14.50" height="22.80" fill="#45e739" shape-rendering="geometricPrecision"/><rect x="287.00" y="610.84" width="14.50" height="22.80" fill="#45e739" shape-rendering="geometricPrecision"/><rect x="287.00" y="635.60" width="14.50" height="22.80" fill="#45e739" shape-rendering="geometricPrecision"/><rect x="287.00" y="660.36" width="14.50" height="22.80" fill="#45e739" shape-rendering="geometricPrecision"/><line x1="285.90" y1="683.70" x2="285.90" y2="689.70" stroke="#e0e0e0" stroke-width="1.00"/><rect x="303.32" y="511.80" width="14.50" height="22.80" fill="#45e739" shape-rendering="geometricPrecision"/><rect x="303.32" y="536.56" width="14.50" height="22.80" fill="#0e3e0c" shape-rendering="geometricPrecision"/><rect x="303.32" y="561.32" width="14.50" height="22.80" fill="#24a21a" shape-rendering="geometricPrecision"/><rect x="303.32" y="586.08" width="14.50" height="22.80" fill="#45e739" shape-rendering="geometricPrecision"/><rect x="303.32" y="610.84" width="14.50" height="22.80" fill="#24a21a" shape-rendering="geometricPrecision"/><rect x="303.32" y="635.60" width="14.50" height="22.80" fill="#45e739" shape-rendering="geometricPrecision"/><rect x="303.32" y="660.36" width="14.50" height="22.80" fill="#45e739" shape-rendering="geometricPrecision"/><line x1="302.22" y1="683.70" x2="302.22" y2="689.70" stroke="#e0e0e0" stroke-width="1.00"/><rect x="319.64" y="511.80" width="14.50" height="22.80" fill="#eaecf3" shape-rendering="geometricPrecision"/><rect x="319.64" y="536.56" width="14.50" height="22.80" fill="#24a21a" shape-rendering="geometricPrecision"/><rect x="319.64" y="561.32" width="14.50" height="22.80" fill="#24a21a" shape-rendering="geometricPrecision"/><rect x="319.64" y="586.08" width="14.50" height="22.80" fill="#45e739" shape-rendering="geometricPrecision"/><rect x="319.64" y="610.84" width="14.50" height="22.80" fill="#45e739" shape-rendering="geometricPrecision"/><rect x="319.64" y="635.60" width="14.50" height="22.80" fill="#24a21a" shape-rendering="geometricPrecision"/><rect x="319.64" y="660.36" width="14.50" height="22.80" fill="#45e739" shape-rendering="geometricPrecision"/><line x1="318.54" y1="683.70" x2="318.54" y2="689.70" stroke="#e0e0e0" stroke-width="1.00"/><rect x="335.96" y="511.80" width="14.50" height="22.80" fill="#eaecf3" shape-rendering="geometricPrecision"/><rect x="335.96" y="536.56" width="14.50" height="22.80" fill="#eaecf3" shape-rendering="geometricPrecision"/><rect x="335.96" y="561.32" width="14.50" height="22.80" fill="#a7ff96" shape-rendering="geometricPrecision"/><rect x="335.96" y="586.08" width="14.50" height="22.80" fill="#eaecf3" shape-rendering="geometricPrecision"/><rect x="335.96" y="610.84" width="14.50" height="22.80" fill="#eaecf3" shape-rendering="geometricPrecision"/><rect x="335.96" y="635.60" width="14.50" height="22.80" fill="#eaecf3" shape-rendering="geometricPrecision"/><rect x="335.96" y="660.36" width="14.50" height="22.80" fill="#eaecf3" shape-rendering="geometricPrecision"/><line x1="334.86" y1="683.70" x2="334.86" y2="689.70" stroke="#e0e0e0" stroke-width="1.00"/><rect x="352.28" y="511.80" width="14.50" height="22.80" fill="#eaecf3" shape-rendering="geometricPrecision"/><rect x="352.28" y="536.56" width="14.50" height="22.80" fill="#eaecf3" shape-rendering="geometricPrecision"/><rect x="352.28" y="561.32" width="14.50" height="22.80" fill="#eaecf3" shape-rendering="geometricPrecision"/><rect x="352.28" y="586.08" width="14.50" height="22.80" fill="#eaecf3" shape-rendering="geometricPrecision"/><rect x="352.28" y="610.84" width="14.50" height="22.80" fill="#eaecf3" shape-rendering="geometricPrecision"/><rect x="352.28" y="635.60" width="14.50" height="22.80" fill="#eaecf3" shape-rendering="geometricPrecision"/><rect x="352.28" y="660.36" width="14.50" height="22.80" fill="#eaecf3" shape-rendering="geometricPrecision"/><line x1="351.18" y1="683.70" x2="351.18" y2="689.70" stroke="#e0e0e0" stroke-width="1.00"/><rect x="368.60" y="511.80" width="14.50" height="22.80" fill="#45e739" shape-rendering="geometricPrecision"/><rect x="368.60" y="536.56" width="14.50" height="22.80" fill="#45e739" shape-rendering="geometricPrecision"/><rect x="368.60" y="561.32" width="14.50" height="22.80" fill="#24a21a" shape-rendering="geometricPrecision"/><rect x="368.60" y="586.08" width="14.50" height="22.80" fill="#24a21a" shape-rendering="geometricPrecision"/><rect x="368.60" y="610.84" width="14.50" height="22.80" fill="#24a21a" shape-rendering="geometricPrecision"/><rect x="368.60" y="635.60" width="14.50" height="22.80" fill="#45e739" shape-rendering="geometricPrecision"/><rect x="368.60" y="660.36" width="14.50" height="22.80" fill="#45e739" shape-rendering="geometricPrecision"/><line x1="367.50" y1="683.70" x2="367.50" y2="689.70" stroke="#e0e0e0" stroke-width="1.00"/><rect x="384.92" y="511.80" width="14.50" height="22.80" fill="#45e739" shape-rendering="geometricPrecision"/><rect x="384.92" y="536.56" width="14.50" height="22.80" fill="#45e739" shape-rendering="geometricPrecision"/><rect x="384.92" y="561.32" width="14.50" height="22.80" fill="#45e739" shape-rendering="geometricPrecision"/><rect x="384.92" y="586.08" width="14.50" height="22.80" fill="#45e739" shape-rendering="geometricPrecision"/><rect x="384.92" y="610.84" width="14.50" height="22.80" fill="#24a21a" shape-rendering="geometricPrecision"/><rect x="384.92" y="635.60" width="14.50" height="22.80" fill="#45e739" shape-rendering="geometricPrecision"/><rect x="384.92" y="660.36" width="14.50" height="22.80" fill="#45e739" shape-rendering="geometricPrecision"/><line x1="383.82" y1="683.70" x2="383.82" y2="689.70" stroke="#e0e0e0" stroke-width="1.00"/><rect x="401.24" y="511.80" width="14.50" height="22.80" fill="#45e739" shape-rendering="geometricPrecision"/><rect x="401.24" y="536.56" width="14.50" height="22.80" fill="#24a21a" shape-rendering="geometricPrecision"/><rect x="401.24" y="561.32" width="14.50" height="22.80" fill="#45e739" shape-rendering="geometricPrecision"/><rect x="401.24" y="586.08" width="14.50" height="22.80" fill="#45e739" shape-rendering="geometricPrecision"/><rect x="401.24" y="610.84" width="14.50" height="22.80" fill="#24a21a" shape-rendering="geometricPrecision"/><rect x="401.24" y="635.60" width="14.50" height="22.80" fill="#24a21a" shape-rendering="geometricPrecision"/><rect x="401.24" y="660.36" width="14.50" height="22.80" fill="#45e739" shape-rendering="geometricPrecision"/><line x1="400.14" y1="683.70" x2="400.14" y2="689.70" stroke="#e0e0e0" stroke-width="1.00"/><rect x="417.56" y="511.80" width="14.50" height="22.80" fill="#45e739" shape-rendering="geometricPrecision"/><rect x="417.56" y="536.56" width="14.50" height="22.80" fill="#45e739" shape-rendering="geometricPrecision"/><rect x="417.56" y="561.32" width="14.50" height="22.80" fill="#45e739" shape-rendering="geometricPrecision"/><rect x="417.56" y="586.08" width="14.50" height="22.80" fill="#45e739" shape-rendering="geometricPrecision"/><rect x="417.56" y="610.84" width="14.50" height="22.80" fill="#45e739" shape-rendering="geometricPrecision"/><rect x="417.56" y="635.60" width="14.50" height="22.80" fill="#45e739" shape-rendering="geometricPrecision"/><rect x="417.56" y="660.36" width="14.50" height="22.80" fill="#45e739" shape-rendering="geometricPrecision"/><line x1="416.46" y1="683.70" x2="416.46" y2="689.70" stroke="#e0e0e0" stroke-width="1.00"/><rect x="433.88" y="511.80" width="14.50" height="22.80" fill="#45e739" shape-rendering="geometricPrecision"/><rect x="433.88" y="536.56" width="14.50" height="22.80" fill="#24a21a" shape-rendering="geometricPrecision"/><rect x="433.88" y="561.32" width="14.50" height="22.80" fill="#45e739" shape-rendering="geometricPrecision"/><rect x="433.88" y="586.08" width="14.50" height="22.80" fill="#45e739" shape-rendering="geometricPrecision"/><rect x="433.88" y="610.84" width="14.50" height="22.80" fill="#45e739" shape-rendering="geometricPrecision"/><rect x="433.88" y="635.60" width="14.50" height="22.80" fill="#45e739" shape-rendering="geometricPrecision"/><rect x="433.88" y="660.36" width="14.50" height="22.80" fill="#45e739" shape-rendering="geometricPrecision"/><line x1="432.78" y1="683.70" x2="432.78" y2="689.70" stroke="#e0e0e0" stroke-width="1.00"/><rect x="450.20" y="511.80" width="14.50" height="22.80" fill="#45e739" shape-rendering="geometricPrecision"/><rect x="450.20" y="536.56" width="14.50" height="22.80" fill="#45e739" shape-rendering="geometricPrecision"/><rect x="450.20" y="561.32" width="14.50" height="22.80" fill="#45e739" shape-rendering="geometricPrecision"/><rect x="450.20" y="586.08" width="14.50" height="22.80" fill="#24a21a" shape-rendering="geometricPrecision"/><rect x="450.20" y="610.84" width="14.50" height="22.80" fill="#24a21a" shape-rendering="geometricPrecision"/><rect x="450.20" y="635.60" width="14.50" height="22.80" fill="#24a21a" shape-rendering="geometricPrecision"/><rect x="450.20" y="660.36" width="14.50" height="22.80" fill="#45e739" shape-rendering="geometricPrecision"/><line x1="449.10" y1="683.70" x2="449.10" y2="689.70" stroke="#e0e0e0" stroke-width="1.00"/><rect x="466.52" y="511.80" width="14.50" height="22.80" fill="#45e739" shape-rendering="geometricPrecision"/><rect x="466.52" y="536.56" width="14.50" height="22.80" fill="#24a21a" shape-rendering="geometricPrecision"/><rect x="466.52" y="561.32" width="14.50" height="22.80" fill="#24a21a" shape-rendering="geometricPrecision"/><rect x="466.52" y="586.08" width="14.50" height="22.80" fill="#0e3e0c" shape-rendering="geometricPrecision"/><rect x="466.52" y="610.84" width="14.50" height="22.80" fill="#45e739" shape-rendering="geometricPrecision"/><rect x="466.52" y="635.60" width="14.50" height="22.80" fill="#45e739" shape-rendering="geometricPrecision"/><rect x="466.52" y="660.36" width="14.50" height="22.80" fill="#45e739" shape-rendering="geometricPrecision"/><line x1="465.42" y1="683.70" x2="465.42" y2="689.70" stroke="#e0e0e0" stroke-width="1.00"/><rect x="482.84" y="511.80" width="14.50" height="22.80" fill="#45e739" shape-rendering="geometricPrecision"/><rect x="482.84" y="536.56" width="14.50" height="22.80" fill="#0e3e0c" shape-rendering="geometricPrecision"/><rect x="482.84" y="561.32" width="14.50" height="22.80" fill="#24a21a" shape-rendering="geometricPrecision"/><rect x="482.84" y="586.08" width="14.50" height="22.80" fill="#45e739" shape-rendering="geometricPrecision"/><rect x="482.84" y="610.84" width="14.50" height="22.80" fill="#45e739" shape-rendering="geometricPrecision"/><rect x="482.84" y="635.60" width="14.50" height="22.80" fill="#45e739" shape-rendering="geometricPrecision"/><rect x="482.84" y="660.36" width="14.50" height="22.80" fill="#45e739" shape-rendering="geometricPrecision"/><line x1="481.74" y1="683.70" x2="481.74" y2="689.70" stroke="#e0e0e0" stroke-width="1.00"/><rect x="499.16" y="511.80" width="14.50" height="22.80" fill="#45e739" shape-rendering="geometricPrecision"/><rect x="499.16" y="536.56" width="14.50" height="22.80" fill="#45e739" shape-rendering="geometricPrecision"/><rect x="499.16" y="561.32" width="14.50" height="22.80" fill="#45e739" shape-rendering="geometricPrecision"/><rect x="499.16" y="586.08" width="14.50" height="22.80" fill="#45e739" shape-rendering="geometricPrecision"/><rect x="499.16" y="610.84" width="14.50" height="22.80" fill="#45e739" shape-rendering="geometricPrecision"/><rect x="499.16" y="635.60" width="14.50" height="22.80" fill="#45e739" shape-rendering="geometricPrecision"/><rect x="499.16" y="660.36" width="14.50" height="22.80" fill="#45e739" shape-rendering="geometricPrecision"/><line x1="498.06" y1="683.70" x2="498.06" y2="689.70" stroke="#e0e0e0" stroke-width="1.00"/><rect x="515.48" y="511.80" width="14.50" height="22.80" fill="#45e739" shape-rendering="geometricPrecision"/><rect x="515.48" y="536.56" width="14.50" height="22.80" fill="#45e739" shape-rendering="geometricPrecision"/><rect x="515.48" y="561.32" width="14.50" height="22.80" fill="#24a21a" shape-rendering="geometricPrecision"/><rect x="515.48" y="586.08" width="14.50" height="22.80" fill="#24a21a" shape-rendering="geometricPrecision"/><rect x="515.48" y="610.84" width="14.50" height="22.80" fill="#45e739" shape-rendering="geometricPrecision"/><rect x="515.48" y="635.60" width="14.50" height="22.80" fill="#24a21a" shape-rendering="geometricPrecision"/><rect x="515.48" y="660.36" width="14.50" height="22.80" fill="#45e739" shape-rendering="geometricPrecision"/><line x1="514.38" y1="683.70" x2="514.38" y2="689.70" stroke="#e0e0e0" stroke-width="1.00"/><rect x="531.80" y="511.80" width="14.50" height="22.80" fill="#45e739" shape-rendering="geometricPrecision"/><rect x="531.80" y="536.56" width="14.50" height="22.80" fill="#45e739" shape-rendering="geometricPrecision"/><rect x="531.80" y="561.32" width="14.50" height="22.80" fill="#24a21a" shape-rendering="geometricPrecision"/><rect x="531.80" y="586.08" width="14.50" height="22.80" fill="#45e739" shape-rendering="geometricPrecision"/><rect x="531.80" y="610.84" width="14.50" height="22.80" fill="#45e739" shape-rendering="geometricPrecision"/><rect x="531.80" y="635.60" width="14.50" height="22.80" fill="#45e739" shape-rendering="geometricPrecision"/><rect x="531.80" y="660.36" width="14.50" height="22.80" fill="#45e739" shape-rendering="geometricPrecision"/><line x1="530.70" y1="683.70" x2="530.70" y2="689.70" stroke="#e0e0e0" stroke-width="1.00"/><rect x="548.12" y="511.80" width="14.50" height="22.80" fill="#45e739" shape-rendering="geometricPrecision"/><rect x="548.12" y="536.56" width="14.50" height="22.80" fill="#45e739" shape-rendering="geometricPrecision"/><rect x="548.12" y="561.32" width="14.50" height="22.80" fill="#45e739" shape-rendering="geometricPrecision"/><rect x="548.12" y="586.08" width="14.50" height="22.80" fill="#45e739" shape-rendering="geometricPrecision"/><rect x="548.12" y="610.84" width="14.50" height="22.80" fill="#45e739" shape-rendering="geometricPrecision"/><rect x="548.12" y="635.60" width="14.50" height="22.80" fill="#45e739" shape-rendering="geometricPrecision"/><rect x="548.12" y="660.36" width="14.50" height="22.80" fill="#45e739" shape-rendering="geometricPrecision"/><line x1="547.02" y1="683.70" x2="547.02" y2="689.70" stroke="#e0e0e0" stroke-width="1.00"/><rect x="564.44" y="511.80" width="14.50" height="22.80" fill="#45e739" shape-rendering="geometricPrecision"/><rect x="564.44" y="536.56" width="14.50" height="22.80" fill="#45e739" shape-rendering="geometricPrecision"/><rect x="564.44" y="561.32" width="14.50" height="22.80" fill="#24a21a" shape-rendering="geometricPrecision"/><rect x="564.44" y="586.08" width="14.50" height="22.80" fill="#24a21a" shape-rendering="geometricPrecision"/><rect x="564.44" y="610.84" width="14.50" height="22.80" fill="#24a21a" shape-rendering="geometricPrecision"/><rect x="564.44" y="635.60" width="14.50" height="22.80" fill="#24a21a" shape-rendering="geometricPrecision"/><rect x="564.44" y="660.36" width="14.50" height="22.80" fill="#45e739" shape-rendering="geometricPrecision"/><line x1="563.34" y1="683.70" x2="563.34" y2="689.70" stroke="#e0e0e0" stroke-width="1.00"/><rect x="580.76" y="511.80" width="14.50" height="22.80" fill="#24a21a" shape-rendering="geometricPrecision"/><rect x="580.76" y="536.56" width="14.50" height="22.80" fill="#24a21a" shape-rendering="geometricPrecision"/><rect x="580.76" y="561.32" width="14.50" height="22.80" fill="#45e739" shape-rendering="geometricPrecision"/><rect x="580.76" y="586.08" width="14.50" height="22.80" fill="#24a21a" shape-rendering="geometricPrecision"/><rect x="580.76" y="610.84" width="14.50" height="22.80" fill="#24a21a" shape-rendering="geometricPrecision"/><rect x="580.76" y="635.60" width="14.50" height="22.80" fill="#24a21a" shape-rendering="geometricPrecision"/><rect x="580.76" y="660.36" width="14.50" height="22.80" fill="#45e739" shape-rendering="geometricPrecision"/><line x1="579.66" y1="683.70" x2="579.66" y2="689.70" stroke="#e0e0e0" stroke-width="1.00"/><rect x="597.08" y="511.80" width="14.50" height="22.80" fill="#45e739" shape-rendering="geometricPrecision"/><rect x="597.08" y="536.56" width="14.50" height="22.80" fill="#45e739" shape-rendering="geometricPrecision"/><rect x="597.08" y="561.32" width="14.50" height="22.80" fill="#45e739" shape-rendering="geometricPrecision"/><rect x="597.08" y="586.08" width="14.50" height="22.80" fill="#45e739" shape-rendering="geometricPrecision"/><rect x="597.08" y="610.84" width="14.50" height="22.80" fill="#0e3e0c" shape-rendering="geometricPrecision"/><rect x="597.08" y="635.60" width="14.50" height="22.80" fill="#24a21a" shape-rendering="geometricPrecision"/><rect x="597.08" y="660.36" width="14.50" height="22.80" fill="#45e739" shape-rendering="geometricPrecision"/><line x1="595.98" y1="683.70" x2="595.98" y2="689.70" stroke="#e0e0e0" stroke-width="1.00"/><rect x="613.40" y="511.80" width="14.50" height="22.80" fill="#45e739" shape-rendering="geometricPrecision"/><rect x="613.40" y="536.56" width="14.50" height="22.80" fill="#24a21a" shape-rendering="geometricPrecision"/><rect x="613.40" y="561.32" width="14.50" height="22.80" fill="#24a21a" shape-rendering="geometricPrecision"/><rect x="613.40" y="586.08" width="14.50" height="22.80" fill="#24a21a" shape-rendering="geometricPrecision"/><rect x="613.40" y="610.84" width="14.50" height="22.80" fill="#45e739" shape-rendering="geometricPrecision"/><rect x="613.40" y="635.60" width="14.50" height="22.80" fill="#45e739" shape-rendering="geometricPrecision"/><rect x="613.40" y="660.36" width="14.50" height="22.80" fill="#45e739" shape-rendering="geometricPrecision"/><line x1="612.30" y1="683.70" x2="612.30" y2="689.70" stroke="#e0e0e0" stroke-width="1.00"/><rect x="629.72" y="511.80" width="14.50" height="22.80" fill="#24a21a" shape-rendering="geometricPrecision"/><rect x="629.72" y="536.56" width="14.50" height="22.80" fill="#24a21a" shape-rendering="geometricPrecision"/><rect x="629.72" y="561.32" width="14.50" height="22.80" fill="#45e739" shape-rendering="geometricPrecision"/><rect x="629.72" y="586.08" width="14.50" height="22.80" fill="#45e739" shape-rendering="geometricPrecision"/><rect x="629.72" y="610.84" width="14.50" height="22.80" fill="#24a21a" shape-rendering="geometricPrecision"/><rect x="629.72" y="635.60" width="14.50" height="22.80" fill="#24a21a" shape-rendering="geometricPrecision"/><rect x="629.72" y="660.36" width="14.50" height="22.80" fill="#45e739" shape-rendering="geometricPrecision"/><line x1="628.62" y1="683.70" x2="628.62" y2="689.70" stroke="#e0e0e0" stroke-width="1.00"/><rect x="646.04" y="511.80" width="14.50" height="22.80" fill="#24a21a" shape-rendering="geometricPrecision"/><rect x="646.04" y="536.56" width="14.50" height="22.80" fill="#24a21a" shape-rendering="geometricPrecision"/><rect x="646.04" y="561.32" width="14.50" height="22.80" fill="#45e739" shape-rendering="geometricPrecision"/><rect x="646.04" y="586.08" width="14.50" height="22.80" fill="#45e739" shape-rendering="geometricPrecision"/><rect x="646.04" y="610.84" width="14.50" height="22.80" fill="#24a21a" shape-rendering="geometricPrecision"/><rect x="646.04" y="635.60" width="14.50" height="22.80" fill="#24a21a" shape-rendering="geometricPrecision"/><rect x="646.04" y="660.36" width="14.50" height="22.80" fill="#45e739" shape-rendering="geometricPrecision"/><line x1="644.94" y1="683.70" x2="644.94" y2="689.70" stroke="#e0e0e0" stroke-width="1.00"/><rect x="662.36" y="511.80" width="14.50" height="22.80" fill="#24a21a" shape-rendering="geometricPrecision"/><rect x="662.36" y="536.56" width="14.50" height="22.80" fill="#0e3e0c" shape-rendering="geometricPrecision"/><rect x="662.36" y="561.32" width="14.50" height="22.80" fill="#24a21a" shape-rendering="geometricPrecision"/><rect x="662.36" y="586.08" width="14.50" height="22.80" fill="#0e3e0c" shape-rendering="geometricPrecision"/><rect x="662.36" y="610.84" width="14.50" height="22.80" fill="#0e3e0c" shape-rendering="geometricPrecision"/><rect x="662.36" y="635.60" width="14.50" height="22.80" fill="#24a21a" shape-rendering="geometricPrecision"/><rect x="662.36" y="660.36" width="14.50" height="22.80" fill="#45e739" shape-rendering="geometricPrecision"/><line x1="661.26" y1="683.70" x2="661.26" y2="689.70" stroke="#e0e0e0" stroke-width="1.00"/><rect x="678.68" y="511.80" width="14.50" height="22.80" fill="#0e3e0c" shape-rendering="geometricPrecision"/><rect x="678.68" y="536.56" width="14.50" height="22.80" fill="#0e3e0c" shape-rendering="geometricPrecision"/><rect x="678.68" y="561.32" width="14.50" height="22.80" fill="#0e3e0c" shape-rendering="geometricPrecision"/><rect x="678.68" y="586.08" width="14.50" height="22.80" fill="#0e3e0c" shape-rendering="geometricPrecision"/><rect x="678.68" y="610.84" width="14.50" height="22.80" fill="#0e3e0c" shape-rendering="geometricPrecision"/><rect x="678.68" y="635.60" width="14.50" height="22.80" fill="#45e739" shape-rendering="geometricPrecision"/><rect x="678.68" y="660.36" width="14.50" height="22.80" fill="#45e739" shape-rendering="geometricPrecision"/><line x1="677.58" y1="683.70" x2="677.58" y2="689.70" stroke="#e0e0e0" stroke-width="1.00"/><rect x="695.00" y="511.80" width="14.50" height="22.80" fill="#24a21a" shape-rendering="geometricPrecision"/><rect x="695.00" y="536.56" width="14.50" height="22.80" fill="#24a21a" shape-rendering="geometricPrecision"/><rect x="695.00" y="561.32" width="14.50" height="22.80" fill="#0e3e0c" shape-rendering="geometricPrecision"/><rect x="695.00" y="586.08" width="14.50" height="22.80" fill="#0e3e0c" shape-rendering="geometricPrecision"/><rect x="695.00" y="610.84" width="14.50" height="22.80" fill="#0e3e0c" shape-rendering="geometricPrecision"/><rect x="695.00" y="635.60" width="14.50" height="22.80" fill="#0e3e0c" shape-rendering="geometricPrecision"/><rect x="695.00" y="660.36" width="14.50" height="22.80" fill="#24a21a" shape-rendering="geometricPrecision"/><line x1="693.90" y1="683.70" x2="693.90" y2="689.70" stroke="#e0e0e0" stroke-width="1.00"/><rect x="711.32" y="511.80" width="14.50" height="22.80" fill="#24a21a" shape-rendering="geometricPrecision"/><rect x="711.32" y="536.56" width="14.50" height="22.80" fill="#45e739" shape-rendering="geometricPrecision"/><rect x="711.32" y="561.32" width="14.50" height="22.80" fill="#45e739" shape-rendering="geometricPrecision"/><rect x="711.32" y="586.08" width="14.50" height="22.80" fill="#45e739" shape-rendering="geometricPrecision"/><rect x="711.32" y="610.84" width="14.50" height="22.80" fill="#0e3e0c" shape-rendering="geometricPrecision"/><rect x="711.32" y="635.60" width="14.50" height="22.80" fill="#45e739" shape-rendering="geometricPrecision"/><rect x="711.32" y="660.36" width="14.50" height="22.80" fill="#45e739" shape-rendering="geometricPrecision"/><line x1="710.22" y1="683.70" x2="710.22" y2="689.70" stroke="#e0e0e0" stroke-width="1.00"/><rect x="727.64" y="511.80" width="14.50" height="22.80" fill="#24a21a" shape-rendering="geometricPrecision"/><rect x="727.64" y="536.56" width="14.50" height="22.80" fill="#0e3e0c" shape-rendering="geometricPrecision"/><rect x="727.64" y="561.32" width="14.50" height="22.80" fill="#a7ff96" shape-rendering="geometricPrecision"/><rect x="727.64" y="586.08" width="14.50" height="22.80" fill="#45e739" shape-rendering="geometricPrecision"/><rect x="727.64" y="610.84" width="14.50" height="22.80" fill="#24a21a" shape-rendering="geometricPrecision"/><rect x="727.64" y="635.60" width="14.50" height="22.80" fill="#24a21a" shape-rendering="geometricPrecision"/><rect x="727.64" y="660.36" width="14.50" height="22.80" fill="#45e739" shape-rendering="geometricPrecision"/><line x1="726.54" y1="683.70" x2="726.54" y2="689.70" stroke="#e0e0e0" stroke-width="1.00"/><rect x="743.96" y="511.80" width="14.50" height="22.80" fill="#24a21a" shape-rendering="geometricPrecision"/><rect x="743.96" y="536.56" width="14.50" height="22.80" fill="#45e739" shape-rendering="geometricPrecision"/><rect x="743.96" y="561.32" width="14.50" height="22.80" fill="#0e3e0c" shape-rendering="geometricPrecision"/><rect x="743.96" y="586.08" width="14.50" height="22.80" fill="#45e739" shape-rendering="geometricPrecision"/><rect x="743.96" y="610.84" width="14.50" height="22.80" fill="#24a21a" shape-rendering="geometricPrecision"/><rect x="743.96" y="635.60" width="14.50" height="22.80" fill="#a7ff96" shape-rendering="geometricPrecision"/><rect x="743.96" y="660.36" width="14.50" height="22.80" fill="#45e739" shape-rendering="geometricPrecision"/><line x1="742.86" y1="683.70" x2="742.86" y2="689.70" stroke="#e0e0e0" stroke-width="1.00"/><rect x="760.28" y="511.80" width="14.50" height="22.80" fill="#24a21a" shape-rendering="geometricPrecision"/><rect x="760.28" y="536.56" width="14.50" height="22.80" fill="#45e739" shape-rendering="geometricPrecision"/><rect x="760.28" y="561.32" width="14.50" height="22.80" fill="#45e739" shape-rendering="geometricPrecision"/><rect x="760.28" y="586.08" width="14.50" height="22.80" fill="#45e739" shape-rendering="geometricPrecision"/><rect x="760.28" y="610.84" width="14.50" height="22.80" fill="#45e739" shape-rendering="geometricPrecision"/><rect x="760.28" y="635.60" width="14.50" height="22.80" fill="#24a21a" shape-rendering="geometricPrecision"/><rect x="760.28" y="660.36" width="14.50" height="22.80" fill="#45e739" shape-rendering="geometricPrecision"/><line x1="759.18" y1="683.70" x2="759.18" y2="689.70" stroke="#e0e0e0" stroke-width="1.00"/><rect x="776.60" y="511.80" width="14.50" height="22.80" fill="#eaecf3" shape-rendering="geometricPrecision"/><rect x="776.60" y="536.56" width="14.50" height="22.80" fill="#eaecf3" shape-rendering="geometricPrecision"/><rect x="776.60" y="561.32" width="14.50" height="22.80" fill="#eaecf3" shape-rendering="geometricPrecision"/><rect x="776.60" y="586.08" width="14.50" height="22.80" fill="#eaecf3" shape-rendering="geometricPrecision"/><rect x="776.60" y="610.84" width="14.50" height="22.80" fill="#a7ff96" shape-rendering="geometricPrecision"/><rect x="776.60" y="635.60" width="14.50" height="22.80" fill="#45e739" shape-rendering="geometricPrecision"/><rect x="776.60" y="660.36" width="14.50" height="22.80" fill="#45e739" shape-rendering="geometricPrecision"/><line x1="775.50" y1="683.70" x2="775.50" y2="689.70" stroke="#e0e0e0" stroke-width="1.00"/><rect x="792.92" y="511.80" width="14.50" height="22.80" fill="#24a21a" shape-rendering="geometricPrecision"/><rect x="792.92" y="536.56" width="14.50" height="22.80" fill="#45e739" shape-rendering="geometricPrecision"/><rect x="792.92" y="561.32" width="14.50" height="22.80" fill="#24a21a" shape-rendering="geometricPrecision"/><rect x="792.92" y="586.08" width="14.50" height="22.80" fill="#45e739" shape-rendering="geometricPrecision"/><rect x="792.92" y="610.84" width="14.50" height="22.80" fill="#24a21a" shape-rendering="geometricPrecision"/><rect x="792.92" y="635.60" width="14.50" height="22.80" fill="#24a21a" shape-rendering="geometricPrecision"/><rect x="792.92" y="660.36" width="14.50" height="22.80" fill="#45e739" shape-rendering="geometricPrecision"/><line x1="791.82" y1="683.70" x2="791.82" y2="689.70" stroke="#e0e0e0" stroke-width="1.00"/><rect x="809.24" y="511.80" width="14.50" height="22.80" fill="#24a21a" shape-rendering="geometricPrecision"/><rect x="809.24" y="536.56" width="14.50" height="22.80" fill="#24a21a" shape-rendering="geometricPrecision"/><rect x="809.24" y="561.32" width="14.50" height="22.80" fill="#45e739" shape-rendering="geometricPrecision"/><rect x="809.24" y="586.08" width="14.50" height="22.80" fill="#45e739" shape-rendering="geometricPrecision"/><rect x="809.24" y="610.84" width="14.50" height="22.80" fill="#24a21a" shape-rendering="geometricPrecision"/><rect x="809.24" y="635.60" width="14.50" height="22.80" fill="#24a21a" shape-rendering="geometricPrecision"/><rect x="809.24" y="660.36" width="14.50" height="22.80" fill="#45e739" shape-rendering="geometricPrecision"/><line x1="808.14" y1="683.70" x2="808.14" y2="689.70" stroke="#e0e0e0" stroke-width="1.00"/><rect x="825.56" y="511.80" width="14.50" height="22.80" fill="#24a21a" shape-rendering="geometricPrecision"/><rect x="825.56" y="536.56" width="14.50" height="22.80" fill="#45e739" shape-rendering="geometricPrecision"/><rect x="825.56" y="561.32" width="14.50" height="22.80" fill="#24a21a" shape-rendering="geometricPrecision"/><rect x="825.56" y="586.08" width="14.50" height="22.80" fill="#45e739" shape-rendering="geometricPrecision"/><rect x="825.56" y="610.84" width="14.50" height="22.80" fill="#24a21a" shape-rendering="geometricPrecision"/><rect x="825.56" y="635.60" width="14.50" height="22.80" fill="#45e739" shape-rendering="geometricPrecision"/><rect x="825.56" y="660.36" width="14.50" height="22.80" fill="#45e739" shape-rendering="geometricPrecision"/><line x1="824.46" y1="683.70" x2="824.46" y2="689.70" stroke="#e0e0e0" stroke-width="1.00"/><rect x="841.88" y="511.80" width="14.50" height="22.80" fill="#45e739" shape-rendering="geometricPrecision"/><rect x="841.88" y="536.56" width="14.50" height="22.80" fill="#24a21a" shape-rendering="geometricPrecision"/><rect x="841.88" y="561.32" width="14.50" height="22.80" fill="#24a21a" shape-rendering="geometricPrecision"/><rect x="841.88" y="586.08" width="14.50" height="22.80" fill="#24a21a" shape-rendering="geometricPrecision"/><rect x="841.88" y="610.84" width="14.50" height="22.80" fill="#24a21a" shape-rendering="geometricPrecision"/><rect x="841.88" y="635.60" width="14.50" height="22.80" fill="#a7ff96" shape-rendering="geometricPrecision"/><rect x="841.88" y="660.36" width="14.50" height="22.80" fill="#45e739" shape-rendering="geometricPrecision"/><line x1="840.78" y1="683.70" x2="840.78" y2="689.70" stroke="#e0e0e0" stroke-width="1.00"/><rect x="858.20" y="511.80" width="14.50" height="22.80" fill="#24a21a" shape-rendering="geometricPrecision"/><rect x="858.20" y="536.56" width="14.50" height="22.80" fill="#0e3e0c" shape-rendering="geometricPrecision"/><rect x="858.20" y="561.32" width="14.50" height="22.80" fill="#24a21a" shape-rendering="geometricPrecision"/><rect x="858.20" y="586.08" width="14.50" height="22.80" fill="#24a21a" shape-rendering="geometricPrecision"/><rect x="858.20" y="610.84" width="14.50" height="22.80" fill="#24a21a" shape-rendering="geometricPrecision"/><rect x="858.20" y="635.60" width="14.50" height="22.80" fill="#24a21a" shape-rendering="geometricPrecision"/><rect x="858.20" y="660.36" width="14.50" height="22.80" fill="#45e739" shape-rendering="geometricPrecision"/><line x1="857.10" y1="683.70" x2="857.10" y2="689.70" stroke="#e0e0e0" stroke-width="1.00"/><rect x="874.52" y="511.80" width="14.50" height="22.80" fill="#24a21a" shape-rendering="geometricPrecision"/><rect x="874.52" y="536.56" width="14.50" height="22.80" fill="#0e3e0c" shape-rendering="geometricPrecision"/><rect x="874.52" y="561.32" width="14.50" height="22.80" fill="#45e739" shape-rendering="geometricPrecision"/><rect x="874.52" y="586.08" width="14.50" height="22.80" fill="#45e739" shape-rendering="geometricPrecision"/><rect x="874.52" y="610.84" width="14.50" height="22.80" fill="#24a21a" shape-rendering="geometricPrecision"/><rect x="874.52" y="635.60" width="14.50" height="22.80" fill="#45e739" shape-rendering="geometricPrecision"/><rect x="874.52" y="660.36" width="14.50" height="22.80" fill="#45e739" shape-rendering="geometricPrecision"/><line x1="873.42" y1="683.70" x2="873.42" y2="689.70" stroke="#e0e0e0" stroke-width="1.00"/><rect x="890.84" y="511.80" width="14.50" height="22.80" fill="#24a21a" shape-rendering="geometricPrecision"/><rect x="890.84" y="536.56" width="14.50" height="22.80" fill="#24a21a" shape-rendering="geometricPrecision"/><rect x="890.84" y="561.32" width="14.50" height="22.80" fill="#0e3e0c" shape-rendering="geometricPrecision"/><rect x="890.84" y="586.08" width="14.50" height="22.80" fill="#0e3e0c" shape-rendering="geometricPrecision"/><rect x="890.84" y="610.84" width="14.50" height="22.80" fill="#0e3e0c" shape-rendering="geometricPrecision"/><rect x="890.84" y="635.60" width="14.50" height="22.80" fill="#45e739" shape-rendering="geometricPrecision"/><rect x="890.84" y="660.36" width="14.50" height="22.80" fill="#45e739" shape-rendering="geometricPrecision"/><line x1="889.74" y1="683.70" x2="889.74" y2="689.70" stroke="#e0e0e0" stroke-width="1.00"/><rect x="907.16" y="561.32" width="14.50" height="22.80" fill="#eaecf3" shape-rendering="geometricPrecision"/><rect x="907.16" y="586.08" width="14.50" height="22.80" fill="#24a21a" shape-rendering="geometricPrecision"/><rect x="907.16" y="610.84" width="14.50" height="22.80" fill="#45e739" shape-rendering="geometricPrecision"/><rect x="907.16" y="635.60" width="14.50" height="22.80" fill="#45e739" shape-rendering="geometricPrecision"/><rect x="907.16" y="660.36" width="14.50" height="22.80" fill="#a7ff96" shape-rendering="geometricPrecision"/><line x1="906.06" y1="683.70" x2="906.06" y2="689.70" stroke="#e0e0e0" stroke-width="1.00"/><line x1="922.38" y1="683.70" x2="922.38" y2="689.70" stroke="#e0e0e0" stroke-width="1.00"/><line x1="999.00" y1="511.00" x2="1879.30" y2="511.00" stroke="#e0e0e0" stroke-width="1.00"/><line x1="999.00" y1="550.26" x2="1879.30" y2="550.26" stroke="#e0e0e0" stroke-width="1.00"/><line x1="999.00" y1="589.52" x2="1879.30" y2="589.52" stroke="#e0e0e0" stroke-width="1.00"/><line x1="999.00" y1="628.78" x2="1879.30" y2="628.78" stroke="#e0e0e0" stroke-width="1.00"/><line x1="999.00" y1="668.04" x2="1879.30" y2="668.04" stroke="#e0e0e0" stroke-width="1.00"/><line x1="999.00" y1="707.30" x2="1879.30" y2="707.30" stroke="#e0e0e0" stroke-width="1.00"/><rect x="1005.10" y="641.85" width="11.85" height="65.45" fill="#ffba83"/><rect x="1021.88" y="681.12" width="11.85" height="26.18" fill="#1d7e99"/><rect x="1021.88" y="628.76" width="11.85" height="52.36" fill="#ffba83"/><rect x="1038.67" y="668.03" width="11.85" height="39.27" fill="#ffba83"/><rect x="1055.45" y="694.21" width="11.85" height="13.09" fill="#1d7e99"/><rect x="1055.45" y="641.85" width="11.85" height="52.36" fill="#ffba83"/><rect x="1072.24" y="654.94" width="11.85" height="52.36" fill="#ffba83"/><rect x="1089.02" y="641.85" width="11.85" height="65.45" fill="#ffba83"/><rect x="1105.80" y="668.03" width="11.85" height="39.27" fill="#ffba83"/><rect x="1122.59" y="694.21" width="11.85" height="13.09" fill="#d748ff"/><rect x="1122.59" y="681.12" width="11.85" height="13.09" fill="#1d7e99"/><rect x="1122.59" y="628.76" width="11.85" height="52.36" fill="#ffba83"/><rect x="1139.37" y="694.21" width="11.85" height="13.09" fill="#1d7e99"/><rect x="1139.37" y="641.85" width="11.85" height="52.36" fill="#ffba83"/><rect x="1156.16" y="654.94" width="11.85" height="52.36" fill="#ffba83"/><rect x="1172.94" y="654.94" width="11.85" height="52.36" fill="#ffba83"/><rect x="1189.72" y="668.03" width="11.85" height="39.27" fill="#ffba83"/><rect x="1206.51" y="641.85" width="11.85" height="65.45" fill="#ffba83"/><rect x="1223.29" y="654.94" width="11.85" height="52.36" fill="#ffba83"/><rect x="1240.08" y="654.94" width="11.85" height="52.36" fill="#ffba83"/><rect x="1256.86" y="694.21" width="11.85" height="13.09" fill="#1d7e99"/><rect x="1256.86" y="641.85" width="11.85" height="52.36" fill="#ffba83"/><rect x="1273.64" y="668.03" width="11.85" height="39.27" fill="#ffba83"/><rect x="1290.43" y="694.21" width="11.85" height="13.09" fill="#1d7e99"/><rect x="1290.43" y="602.58" width="11.85" height="91.63" fill="#ffba83"/><rect x="1307.21" y="694.21" width="11.85" height="13.09" fill="#1d7e99"/><rect x="1307.21" y="654.94" width="11.85" height="39.27" fill="#ffba83"/><rect x="1324.00" y="641.85" width="11.85" height="65.45" fill="#ffba83"/><rect x="1340.78" y="654.94" width="11.85" height="52.36" fill="#ffba83"/><rect x="1357.56" y="681.12" width="11.85" height="26.18" fill="#ffba83"/><rect x="1374.35" y="654.94" width="11.85" height="52.36" fill="#1d7e99"/><rect x="1374.35" y="589.49" width="11.85" height="65.45" fill="#ffba83"/><rect x="1391.13" y="668.03" width="11.85" height="39.27" fill="#1d7e99"/><rect x="1391.13" y="615.67" width="11.85" height="52.36" fill="#ffba83"/><rect x="1407.92" y="654.94" width="11.85" height="52.36" fill="#1d7e99"/><rect x="1407.92" y="615.67" width="11.85" height="39.27" fill="#ffba83"/><rect x="1424.70" y="668.03" width="11.85" height="39.27" fill="#1d7e99"/><rect x="1424.70" y="628.76" width="11.85" height="39.27" fill="#ffba83"/><rect x="1441.48" y="654.94" width="11.85" height="52.36" fill="#ffba83"/><rect x="1458.27" y="654.94" width="11.85" height="52.36" fill="#ffba83"/><rect x="1475.05" y="694.21" width="11.85" height="13.09" fill="#1d7e99"/><rect x="1475.05" y="641.85" width="11.85" height="52.36" fill="#ffba83"/><rect x="1491.84" y="668.03" width="11.85" height="39.27" fill="#1d7e99"/><rect x="1491.84" y="602.58" width="11.85" height="65.45" fill="#ffba83"/><rect x="1508.62" y="654.94" width="11.85" height="52.36" fill="#ffba83"/><rect x="1525.40" y="694.21" width="11.85" height="13.09" fill="#d748ff"/><rect x="1525.40" y="681.12" width="11.85" height="13.09" fill="#1d7e99"/><rect x="1525.40" y="628.76" width="11.85" height="52.36" fill="#ffba83"/><rect x="1542.19" y="654.94" width="11.85" height="52.36" fill="#1d7e99"/><rect x="1542.19" y="589.49" width="11.85" height="65.45" fill="#ffba83"/><rect x="1558.97" y="641.85" width="11.85" height="65.45" fill="#ffba83"/><rect x="1575.76" y="654.94" width="11.85" height="52.36" fill="#ffba83"/><rect x="1592.54" y="654.94" width="11.85" height="52.36" fill="#ffba83"/><rect x="1609.32" y="681.12" width="11.85" height="26.18" fill="#1d7e99"/><rect x="1609.32" y="628.76" width="11.85" height="52.36" fill="#ffba83"/><rect x="1626.11" y="654.94" width="11.85" height="52.36" fill="#ffba83"/><rect x="1642.89" y="668.03" width="11.85" height="39.27" fill="#ffba83"/><rect x="1659.68" y="681.12" width="11.85" height="26.18" fill="#1d7e99"/><rect x="1659.68" y="563.31" width="11.85" height="117.81" fill="#ffba83"/><rect x="1676.46" y="694.21" width="11.85" height="13.09" fill="#1d7e99"/><rect x="1676.46" y="641.85" width="11.85" height="52.36" fill="#ffba83"/><rect x="1693.24" y="668.03" width="11.85" height="39.27" fill="#ffba83"/><rect x="1710.03" y="654.94" width="11.85" height="52.36" fill="#ffba83"/><rect x="1726.81" y="694.21" width="11.85" height="13.09" fill="#1d7e99"/><rect x="1726.81" y="589.49" width="11.85" height="104.72" fill="#ffba83"/><rect x="1743.60" y="628.76" width="11.85" height="78.54" fill="#1d7e99"/><rect x="1743.60" y="576.40" width="11.85" height="52.36" fill="#ffba83"/><rect x="1760.38" y="615.67" width="11.85" height="91.63" fill="#1d7e99"/><rect x="1760.38" y="550.22" width="11.85" height="65.45" fill="#ffba83"/><rect x="1777.16" y="681.12" width="11.85" height="26.18" fill="#1d7e99"/><rect x="1777.16" y="628.76" width="11.85" height="52.36" fill="#ffba83"/><rect x="1793.95" y="681.12" width="11.85" height="26.18" fill="#1d7e99"/><rect x="1793.95" y="628.76" width="11.85" height="52.36" fill="#ffba83"/><rect x="1810.73" y="681.12" width="11.85" height="26.18" fill="#ffba83"/><rect x="1827.52" y="694.21" width="11.85" height="13.09" fill="#1d7e99"/><rect x="1827.52" y="654.94" width="11.85" height="39.27" fill="#ffba83"/><rect x="1844.30" y="654.94" width="11.85" height="52.36" fill="#ffba83"/><rect x="1861.08" y="694.21" width="11.85" height="13.09" fill="#1d7e99"/><rect x="1861.08" y="628.76" width="11.85" height="65.45" fill="#ffba83"/><line x1="1011.02" y1="708.00" x2="1011.02" y2="712.50" stroke="#e0e0e0" stroke-width="1.00"/><line x1="1145.29" y1="708.00" x2="1145.29" y2="712.50" stroke="#e0e0e0" stroke-width="1.00"/><line x1="1279.56" y1="708.00" x2="1279.56" y2="712.50" stroke="#e0e0e0" stroke-width="1.00"/><line x1="1397.05" y1="708.00" x2="1397.05" y2="712.50" stroke="#e0e0e0" stroke-width="1.00"/><line x1="1531.32" y1="708.00" x2="1531.32" y2="712.50" stroke="#e0e0e0" stroke-width="1.00"/><line x1="1665.60" y1="708.00" x2="1665.60" y2="712.50" stroke="#e0e0e0" stroke-width="1.00"/><line x1="1783.08" y1="708.00" x2="1783.08" y2="712.50" stroke="#e0e0e0" stroke-width="1.00"/><line x1="60.00" y1="829.80" x2="915.80" y2="829.80" stroke="#e0e0e0" stroke-width="1.00"/><line x1="60.00" y1="853.50" x2="915.80" y2="853.50" stroke="#e0e0e0" stroke-width="1.00"/><line x1="60.00" y1="877.20" x2="915.80" y2="877.20" stroke="#e0e0e0" stroke-width="1.00"/><line x1="60.00" y1="900.90" x2="915.80" y2="900.90" stroke="#e0e0e0" stroke-width="1.00"/><line x1="60.00" y1="924.60" x2="915.80" y2="924.60" stroke="#e0e0e0" stroke-width="1.00"/><line x1="60.00" y1="948.30" x2="915.80" y2="948.30" stroke="#e0e0e0" stroke-width="1.00"/><rect x="60.00" y="833.30" width="697.40" height="16.70" fill="#bfbfbf"/><rect x="757.40" y="833.30" width="11.50" height="16.70" fill="#69c1ff"/><rect x="60.00" y="857.20" width="570.00" height="16.70" fill="#69c1ff"/><rect x="60.00" y="880.90" width="471.70" height="16.70" fill="#69c1ff"/><rect x="60.00" y="904.60" width="431.00" height="16.70" fill="#69c1ff"/><rect x="60.00" y="928.30" width="396.40" height="16.70" fill="#69c1ff"/><line x1="1103.50" y1="829.50" x2="1858.00" y2="829.50" stroke="#e0e0e0" stroke-width="1.00"/><line x1="1103.50" y1="853.80" x2="1858.00" y2="853.80" stroke="#e0e0e0" stroke-width="1.00"/><line x1="1103.50" y1="878.10" x2="1858.00" y2="878.10" stroke="#e0e0e0" stroke-width="1.00"/><line x1="1103.50" y1="902.40" x2="1858.00" y2="902.40" stroke="#e0e0e0" stroke-width="1.00"/><line x1="1103.50" y1="926.70" x2="1858.00" y2="926.70" stroke="#e0e0e0" stroke-width="1.00"/><line x1="1103.50" y1="951.00" x2="1858.00" y2="951.00" stroke="#e0e0e0" stroke-width="1.00"/><path shape-rendering="geometricPrecision" fill="#3099d7" d="M1103.5,833.6H1742.5Q1744.5,833.6 1744.5,835.6V848.8Q1744.5,850.8 1742.5,850.8H1103.5Z"/><path shape-rendering="geometricPrecision" fill="#3099d7" d="M1103.5,857.9H1642.0Q1644.0,857.9 1644.0,859.9V873.1Q1644.0,875.1 1642.0,875.1H1103.5Z"/><path shape-rendering="geometricPrecision" fill="#3099d7" d="M1103.5,882.2H1622.0Q1624.0,882.2 1624.0,884.2V897.4Q1624.0,899.4 1622.0,899.4H1103.5Z"/><path shape-rendering="geometricPrecision" fill="#3099d7" d="M1103.5,906.5H1285.5Q1287.5,906.5 1287.5,908.5V921.7Q1287.5,923.7 1285.5,923.7H1103.5Z"/><path shape-rendering="geometricPrecision" fill="#3099d7" d="M1103.5,930.8H1260.5Q1262.5,930.8 1262.5,932.8V946.0Q1262.5,948.0 1260.5,948.0H1103.5Z"/></svg>
<svg style="position:absolute;left:0;top:0" width="1911" height="944" viewBox="0 0 1911 944"><circle cx="837.90" cy="158.10" r="5.0" fill="none" stroke="#6E8192" stroke-width="1.05"/><path d="M835.20,158.10h5.4M837.90,155.40v5.4" stroke="#6E8192" stroke-width="1.5" fill="none"/><circle cx="854.20" cy="158.10" r="5.0" fill="none" stroke="#6E8192" stroke-width="1.05"/><path d="M851.50,158.10h5.4" stroke="#6E8192" stroke-width="1.5" fill="none"/><circle cx="870.40" cy="156.70" r="3.75" fill="none" stroke="#008FFB" stroke-width="1.7"/><path d="M873.40,159.70L877.40,163.50" stroke="#008FFB" stroke-width="1.8" stroke-linecap="round" fill="none"/><path d="M868.60,156.70h3.6M870.40,154.90v3.6" stroke="#008FFB" stroke-width="0.9" fill="none"/><path d="M883.80,158.70H895.20M889.50,153.00V164.40M885.50,157.00l-1.70,1.70l1.70,1.70M893.50,157.00l1.70,1.70l-1.70,1.70M887.80,154.70l1.70,-1.70l1.70,1.70M887.80,162.70l1.70,1.70l1.70,-1.70" stroke="#6E8192" stroke-width="1.0" fill="none" stroke-linejoin="round"/><path d="M902.20,160.50A5.20,5.20 0 1,1 904.42,164.36" stroke="#6E8192" stroke-width="1.0" fill="none"/><path d="M900.90,159.80l2.6,0l-1.3,2.2z" fill="#6E8192"/><path d="M918.20,155.10H930.30M918.20,158.45H930.30M918.20,161.80H930.30" stroke="#6E8192" stroke-width="1.6" fill="none"/></svg>
<div style="position:absolute;left:255.00px;top:416.00px;width:10.00px;height:10.00px;background:#212121;border-radius:2px;"></div>
<div style="position:absolute;left:304.30px;top:416.00px;width:10.00px;height:10.00px;background:#F44336;border-radius:2px;"></div>
<div style="position:absolute;left:344.10px;top:416.00px;width:10.00px;height:10.00px;background:#FF9800;border-radius:2px;"></div>
<div style="position:absolute;left:398.30px;top:416.00px;width:10.00px;height:10.00px;background:#FFD740;border-radius:2px;"></div>
<div style="position:absolute;left:435.90px;top:416.00px;width:10.00px;height:10.00px;background:#9E9E9E;border-radius:2px;"></div>
<div style="position:absolute;left:500.10px;top:416.00px;width:10.00px;height:10.00px;background:#9C27B0;border-radius:2px;"></div>
<div style="position:absolute;left:564.60px;top:416.00px;width:10.00px;height:10.00px;background:#1B5E20;border-radius:2px;"></div>
<div style="position:absolute;left:615.20px;top:416.00px;width:10.00px;height:10.00px;background:#64B5F6;border-radius:2px;"></div>
<div style="position:absolute;left:651.50px;top:416.00px;width:10.00px;height:10.00px;background:#66BB6A;border-radius:2px;"></div>
<svg style="position:absolute;left:0;top:0" width="1911" height="944" viewBox="0 0 1911 944"><circle cx="1783.90" cy="158.10" r="5.0" fill="none" stroke="#6E8192" stroke-width="1.05"/><path d="M1781.20,158.10h5.4M1783.90,155.40v5.4" stroke="#6E8192" stroke-width="1.5" fill="none"/><circle cx="1800.20" cy="158.10" r="5.0" fill="none" stroke="#6E8192" stroke-width="1.05"/><path d="M1797.50,158.10h5.4" stroke="#6E8192" stroke-width="1.5" fill="none"/><circle cx="1816.40" cy="156.70" r="3.75" fill="none" stroke="#008FFB" stroke-width="1.7"/><path d="M1819.40,159.70L1823.40,163.50" stroke="#008FFB" stroke-width="1.8" stroke-linecap="round" fill="none"/><path d="M1814.60,156.70h3.6M1816.40,154.90v3.6" stroke="#008FFB" stroke-width="0.9" fill="none"/><path d="M1829.80,158.70H1841.20M1835.50,153.00V164.40M1831.50,157.00l-1.70,1.70l1.70,1.70M1839.50,157.00l1.70,1.70l-1.70,1.70M1833.80,154.70l1.70,-1.70l1.70,1.70M1833.80,162.70l1.70,1.70l1.70,-1.70" stroke="#6E8192" stroke-width="1.0" fill="none" stroke-linejoin="round"/><path d="M1848.20,160.50A5.20,5.20 0 1,1 1850.42,164.36" stroke="#6E8192" stroke-width="1.0" fill="none"/><path d="M1846.90,159.80l2.6,0l-1.3,2.2z" fill="#6E8192"/><path d="M1864.20,155.10H1876.30M1864.20,158.45H1876.30M1864.20,161.80H1876.30" stroke="#6E8192" stroke-width="1.6" fill="none"/></svg>
<div style="position:absolute;left:1302.81px;top:416.20px;width:9.60px;height:9.60px;background:#212121;border-radius:2px;"></div>
<div style="position:absolute;left:1352.75px;top:416.20px;width:9.60px;height:9.60px;background:#F44336;border-radius:2px;"></div>
<div style="position:absolute;left:1393.22px;top:416.20px;width:9.60px;height:9.60px;background:#FF9800;border-radius:2px;"></div>
<div style="position:absolute;left:1448.63px;top:416.20px;width:9.60px;height:9.60px;background:#FFD740;border-radius:2px;"></div>
<div style="position:absolute;left:1486.55px;top:416.20px;width:9.60px;height:9.60px;background:#9E9E9E;border-radius:2px;"></div>
<div style="position:absolute;left:1552.90px;top:416.20px;width:9.60px;height:9.60px;background:#9C27B0;border-radius:2px;"></div>
<svg style="position:absolute;left:0;top:0;will-change:transform" width="1911" height="944" viewBox="0 0 1911 944"><g font-family="Liberation Sans, sans-serif" font-size="9.1" fill="#4a5052"><text x="216.20" y="693.70" transform="rotate(-45 216.20 693.70)" text-anchor="end">W5</text><text x="232.52" y="693.70" transform="rotate(-45 232.52 693.70)" text-anchor="end">W6</text><text x="248.84" y="693.70" transform="rotate(-45 248.84 693.70)" text-anchor="end">W7</text><text x="265.16" y="693.70" transform="rotate(-45 265.16 693.70)" text-anchor="end">W8</text><text x="281.48" y="693.70" transform="rotate(-45 281.48 693.70)" text-anchor="end">W9</text><text x="297.80" y="693.70" transform="rotate(-45 297.80 693.70)" text-anchor="end">W10</text><text x="314.12" y="693.70" transform="rotate(-45 314.12 693.70)" text-anchor="end">W11</text><text x="330.44" y="693.70" transform="rotate(-45 330.44 693.70)" text-anchor="end">W12</text><text x="346.76" y="693.70" transform="rotate(-45 346.76 693.70)" text-anchor="end">W13</text><text x="363.08" y="693.70" transform="rotate(-45 363.08 693.70)" text-anchor="end">W14</text><text x="379.40" y="693.70" transform="rotate(-45 379.40 693.70)" text-anchor="end">W15</text><text x="395.72" y="693.70" transform="rotate(-45 395.72 693.70)" text-anchor="end">W16</text><text x="412.04" y="693.70" transform="rotate(-45 412.04 693.70)" text-anchor="end">W17</text><text x="428.36" y="693.70" transform="rotate(-45 428.36 693.70)" text-anchor="end">W18</text><text x="444.68" y="693.70" transform="rotate(-45 444.68 693.70)" text-anchor="end">W19</text><text x="461.00" y="693.70" transform="rotate(-45 461.00 693.70)" text-anchor="end">W20</text><text x="477.32" y="693.70" transform="rotate(-45 477.32 693.70)" text-anchor="end">W21</text><text x="493.64" y="693.70" transform="rotate(-45 493.64 693.70)" text-anchor="end">W22</text><text x="509.96" y="693.70" transform="rotate(-45 509.96 693.70)" text-anchor="end">W23</text><text x="526.28" y="693.70" transform="rotate(-45 526.28 693.70)" text-anchor="end">W24</text><text x="542.60" y="693.70" transform="rotate(-45 542.60 693.70)" text-anchor="end">W25</text><text x="558.92" y="693.70" transform="rotate(-45 558.92 693.70)" text-anchor="end">W26</text><text x="575.24" y="693.70" transform="rotate(-45 575.24 693.70)" text-anchor="end">W27</text><text x="591.56" y="693.70" transform="rotate(-45 591.56 693.70)" text-anchor="end">W28</text><text x="607.88" y="693.70" transform="rotate(-45 607.88 693.70)" text-anchor="end">W29</text><text x="624.20" y="693.70" transform="rotate(-45 624.20 693.70)" text-anchor="end">W30</text><text x="640.52" y="693.70" transform="rotate(-45 640.52 693.70)" text-anchor="end">W31</text><text x="656.84" y="693.70" transform="rotate(-45 656.84 693.70)" text-anchor="end">W32</text><text x="673.16" y="693.70" transform="rotate(-45 673.16 693.70)" text-anchor="end">W33</text><text x="689.48" y="693.70" transform="rotate(-45 689.48 693.70)" text-anchor="end">W34</text><text x="705.80" y="693.70" transform="rotate(-45 705.80 693.70)" text-anchor="end">W35</text><text x="722.12" y="693.70" transform="rotate(-45 722.12 693.70)" text-anchor="end">W36</text><text x="738.44" y="693.70" transform="rotate(-45 738.44 693.70)" text-anchor="end">W37</text><text x="754.76" y="693.70" transform="rotate(-45 754.76 693.70)" text-anchor="end">W38</text><text x="771.08" y="693.70" transform="rotate(-45 771.08 693.70)" text-anchor="end">W39</text><text x="787.40" y="693.70" transform="rotate(-45 787.40 693.70)" text-anchor="end">W40</text><text x="803.72" y="693.70" transform="rotate(-45 803.72 693.70)" text-anchor="end">W42</text><text x="820.04" y="693.70" transform="rotate(-45 820.04 693.70)" text-anchor="end">W43</text><text x="836.36" y="693.70" transform="rotate(-45 836.36 693.70)" text-anchor="end">W44</text><text x="852.68" y="693.70" transform="rotate(-45 852.68 693.70)" text-anchor="end">W45</text><text x="869.00" y="693.70" transform="rotate(-45 869.00 693.70)" text-anchor="end">W46</text><text x="885.32" y="693.70" transform="rotate(-45 885.32 693.70)" text-anchor="end">W47</text><text x="901.64" y="693.70" transform="rotate(-45 901.64 693.70)" text-anchor="end">W48</text><text x="917.96" y="693.70" transform="rotate(-45 917.96 693.70)" text-anchor="end">W49</text></g></svg>
<svg style="position:absolute;left:0;top:0" width="1911" height="944" viewBox="0 0 1911 944"><path d="M918.20,474.90H930.30M918.20,478.25H930.30M918.20,481.60H930.30" stroke="#6E8192" stroke-width="1.6" fill="none"/></svg>
<div style="position:absolute;left:359.40px;top:736.80px;width:9.60px;height:9.60px;background:#eaecf3;border-radius:50%;"></div>
<div style="position:absolute;left:397.20px;top:736.80px;width:9.60px;height:9.60px;background:#b0ffac;border-radius:50%;"></div>
<div style="position:absolute;left:454.20px;top:736.80px;width:9.60px;height:9.60px;background:#4aff4a;border-radius:50%;"></div>
<div style="position:absolute;left:510.00px;top:736.80px;width:9.60px;height:9.60px;background:#24b826;border-radius:50%;"></div>
<div style="position:absolute;left:550.30px;top:736.80px;width:9.60px;height:9.60px;background:#0e4c18;border-radius:50%;"></div>
<svg style="position:absolute;left:0;top:0" width="1911" height="944" viewBox="0 0 1911 944"><circle cx="1783.90" cy="477.90" r="5.0" fill="none" stroke="#6E8192" stroke-width="1.05"/><path d="M1781.20,477.90h5.4M1783.90,475.20v5.4" stroke="#6E8192" stroke-width="1.5" fill="none"/><circle cx="1800.20" cy="477.90" r="5.0" fill="none" stroke="#6E8192" stroke-width="1.05"/><path d="M1797.50,477.90h5.4" stroke="#6E8192" stroke-width="1.5" fill="none"/><circle cx="1816.40" cy="476.50" r="3.75" fill="none" stroke="#008FFB" stroke-width="1.7"/><path d="M1819.40,479.50L1823.40,483.30" stroke="#008FFB" stroke-width="1.8" stroke-linecap="round" fill="none"/><path d="M1814.60,476.50h3.6M1816.40,474.70v3.6" stroke="#008FFB" stroke-width="0.9" fill="none"/><path d="M1829.80,478.50H1841.20M1835.50,472.80V484.20M1831.50,476.80l-1.70,1.70l1.70,1.70M1839.50,476.80l1.70,1.70l-1.70,1.70M1833.80,474.50l1.70,-1.70l1.70,1.70M1833.80,482.50l1.70,1.70l1.70,-1.70" stroke="#6E8192" stroke-width="1.0" fill="none" stroke-linejoin="round"/><path d="M1848.20,480.30A5.20,5.20 0 1,1 1850.42,484.16" stroke="#6E8192" stroke-width="1.0" fill="none"/><path d="M1846.90,479.60l2.6,0l-1.3,2.2z" fill="#6E8192"/><path d="M1864.20,474.90H1876.30M1864.20,478.25H1876.30M1864.20,481.60H1876.30" stroke="#6E8192" stroke-width="1.6" fill="none"/></svg>
<div style="position:absolute;left:1197.10px;top:736.50px;width:9.60px;height:9.60px;background:#FF2BC8;border-radius:2px;"></div>
<div style="position:absolute;left:1293.10px;top:736.50px;width:9.60px;height:9.60px;background:#d748ff;border-radius:2px;"></div>
<div style="position:absolute;left:1376.10px;top:736.50px;width:9.60px;height:9.60px;background:#1d7e99;border-radius:2px;"></div>
<div style="position:absolute;left:1466.70px;top:736.50px;width:9.60px;height:9.60px;background:#ffba83;border-radius:2px;"></div>
<div style="position:absolute;left:1561.80px;top:736.50px;width:9.60px;height:9.60px;background:#7effea;border-radius:2px;"></div>
<svg style="position:absolute;left:0;top:0" width="1911" height="944" viewBox="0 0 1911 944"><path d="M918.20,793.90H930.30M918.20,797.25H930.30M918.20,800.60H930.30" stroke="#6E8192" stroke-width="1.6" fill="none"/></svg>
<svg style="position:absolute;left:0;top:0" width="1911" height="944" viewBox="0 0 1911 944"><path d="M1864.20,793.90H1876.30M1864.20,797.25H1876.30M1864.20,800.60H1876.30" stroke="#6E8192" stroke-width="1.6" fill="none"/></svg>
<div style="position:absolute;left:0;top:0;width:1911px;height:944px;will-change:transform"><div style="position:absolute;left:1565.00px;top:17.70px;font-size:11.20px;line-height:16px;height:16px;white-space:nowrap;color:#333;letter-spacing:1.440px;">Ostorlab Official</div><div style="position:absolute;left:1834.45px;top:7.70px;font-size:9.60px;line-height:13px;height:13px;white-space:nowrap;color:#fff;letter-spacing:-0.259px;">306</div><div style="position:absolute;left:199.00px;top:86.20px;font-size:11.20px;line-height:16px;height:16px;white-space:nowrap;color:#111;letter-spacing:0.743px;">SCANS &amp; RISK</div><div style="position:absolute;left:625.00px;top:86.20px;font-size:11.20px;line-height:16px;height:16px;white-space:nowrap;color:#5a5a5a;letter-spacing:0.645px;">REMEDIATION</div><div style="position:absolute;left:1047.30px;top:86.20px;font-size:11.20px;line-height:16px;height:16px;white-space:nowrap;color:#5a5a5a;letter-spacing:0.734px;">INVENTORY &amp; ATTACK SURFACE</div><div style="position:absolute;left:1581.30px;top:86.20px;font-size:11.20px;line-height:16px;height:16px;white-space:nowrap;color:#5a5a5a;letter-spacing:0.665px;">REMEDIATION CALENDAR</div><div style="position:absolute;left:186.31px;top:399.40px;font-size:9.60px;line-height:13px;height:13px;white-space:nowrap;color:#373d3f;">24 Oct</div><div style="position:absolute;left:319.40px;top:399.40px;font-size:9.60px;line-height:13px;height:13px;white-space:nowrap;color:#373d3f;">01 Nov</div><div style="position:absolute;left:436.79px;top:399.40px;font-size:9.60px;line-height:13px;height:13px;white-space:nowrap;color:#373d3f;">08 Nov</div><div style="position:absolute;left:570.95px;top:399.40px;font-size:9.60px;line-height:13px;height:13px;white-space:nowrap;color:#373d3f;">16 Nov</div><div style="position:absolute;left:705.11px;top:399.40px;font-size:9.60px;line-height:13px;height:13px;white-space:nowrap;color:#373d3f;">24 Nov</div><div style="position:absolute;left:822.50px;top:399.40px;font-size:9.60px;line-height:13px;height:13px;white-space:nowrap;color:#373d3f;">01 Dec</div><div style="position:absolute;left:412.35px;top:150.20px;font-size:11.20px;line-height:16px;height:16px;white-space:nowrap;color:#373d3f;letter-spacing:-0.040px;font-weight:700;">Scan Distribution by Risk</div><div style="position:absolute;left:267.70px;top:415.30px;font-size:9.60px;line-height:13px;height:13px;white-space:nowrap;color:#373d3f;letter-spacing:-0.119px;">Critical</div><div style="position:absolute;left:316.60px;top:415.30px;font-size:9.60px;line-height:13px;height:13px;white-space:nowrap;color:#373d3f;letter-spacing:-0.048px;">High</div><div style="position:absolute;left:356.60px;top:415.30px;font-size:9.60px;line-height:13px;height:13px;white-space:nowrap;color:#373d3f;letter-spacing:-0.069px;">Medium</div><div style="position:absolute;left:410.60px;top:415.30px;font-size:9.60px;line-height:13px;height:13px;white-space:nowrap;color:#373d3f;letter-spacing:0.044px;">Low</div><div style="position:absolute;left:448.10px;top:415.30px;font-size:9.60px;line-height:13px;height:13px;white-space:nowrap;color:#373d3f;letter-spacing:-0.039px;">Potentially</div><div style="position:absolute;left:512.50px;top:415.30px;font-size:9.60px;line-height:13px;height:13px;white-space:nowrap;color:#373d3f;letter-spacing:-0.050px;">Hardening</div><div style="position:absolute;left:577.00px;top:415.30px;font-size:9.60px;line-height:13px;height:13px;white-space:nowrap;color:#373d3f;letter-spacing:-0.124px;">Secure</div><div style="position:absolute;left:627.40px;top:415.30px;font-size:9.60px;line-height:13px;height:13px;white-space:nowrap;color:#373d3f;letter-spacing:-0.104px;">Info</div><div style="position:absolute;left:663.60px;top:415.30px;font-size:9.60px;line-height:13px;height:13px;white-space:nowrap;color:#373d3f;letter-spacing:-0.044px;">Important</div><div style="position:absolute;left:980.42px;top:183.00px;font-size:8.80px;line-height:12px;height:12px;white-space:nowrap;color:#373d3f;">8000</div><div style="position:absolute;left:980.42px;top:232.20px;font-size:8.80px;line-height:12px;height:12px;white-space:nowrap;color:#373d3f;">6000</div><div style="position:absolute;left:980.42px;top:281.40px;font-size:8.80px;line-height:12px;height:12px;white-space:nowrap;color:#373d3f;">4000</div><div style="position:absolute;left:980.42px;top:330.60px;font-size:8.80px;line-height:12px;height:12px;white-space:nowrap;color:#373d3f;">2000</div><div style="position:absolute;left:995.11px;top:379.80px;font-size:8.80px;line-height:12px;height:12px;white-space:nowrap;color:#373d3f;">0</div><div style="position:absolute;left:1025.61px;top:397.50px;font-size:9.20px;line-height:13px;height:13px;white-space:nowrap;color:#373d3f;">16 Oct</div><div style="position:absolute;left:1155.57px;top:397.50px;font-size:9.20px;line-height:13px;height:13px;white-space:nowrap;color:#373d3f;">24 Oct</div><div style="position:absolute;left:1284.49px;top:397.50px;font-size:9.20px;line-height:13px;height:13px;white-space:nowrap;color:#373d3f;">01 Nov</div><div style="position:absolute;left:1398.20px;top:397.50px;font-size:9.20px;line-height:13px;height:13px;white-space:nowrap;color:#373d3f;">08 Nov</div><div style="position:absolute;left:1528.15px;top:397.50px;font-size:9.20px;line-height:13px;height:13px;white-space:nowrap;color:#373d3f;">16 Nov</div><div style="position:absolute;left:1658.10px;top:397.50px;font-size:9.20px;line-height:13px;height:13px;white-space:nowrap;color:#373d3f;">24 Nov</div><div style="position:absolute;left:1771.81px;top:397.50px;font-size:9.20px;line-height:13px;height:13px;white-space:nowrap;color:#373d3f;">01 Dec</div><div style="position:absolute;left:1365.90px;top:150.20px;font-size:11.20px;line-height:16px;height:16px;white-space:nowrap;color:#373d3f;letter-spacing:-0.041px;font-weight:700;">Vulnerabilities by Risk</div><div style="position:absolute;left:1314.47px;top:415.30px;font-size:9.60px;line-height:13px;height:13px;white-space:nowrap;color:#373d3f;letter-spacing:0.080px;">Critical</div><div style="position:absolute;left:1364.78px;top:415.30px;font-size:9.60px;line-height:13px;height:13px;white-space:nowrap;color:#373d3f;letter-spacing:0.102px;">High</div><div style="position:absolute;left:1405.25px;top:415.30px;font-size:9.60px;line-height:13px;height:13px;white-space:nowrap;color:#373d3f;letter-spacing:0.098px;">Medium</div><div style="position:absolute;left:1460.66px;top:415.30px;font-size:9.60px;line-height:13px;height:13px;white-space:nowrap;color:#373d3f;letter-spacing:-0.056px;">Low</div><div style="position:absolute;left:1498.58px;top:415.30px;font-size:9.60px;line-height:13px;height:13px;white-space:nowrap;color:#373d3f;letter-spacing:0.164px;">Potentially</div><div style="position:absolute;left:1565.29px;top:415.30px;font-size:9.60px;line-height:13px;height:13px;white-space:nowrap;color:#373d3f;letter-spacing:0.205px;">Hardening</div><div style="position:absolute;left:440.95px;top:470.00px;font-size:11.20px;line-height:16px;height:16px;white-space:nowrap;color:#373d3f;letter-spacing:0.096px;font-weight:700;">Scans per day</div><div style="position:absolute;left:371.80px;top:734.60px;font-size:9.60px;line-height:13px;height:13px;white-space:nowrap;color:#373d3f;letter-spacing:0.094px;">Low</div><div style="position:absolute;left:410.00px;top:734.60px;font-size:9.60px;line-height:13px;height:13px;white-space:nowrap;color:#373d3f;letter-spacing:0.153px;">Average</div><div style="position:absolute;left:466.60px;top:734.60px;font-size:9.60px;line-height:13px;height:13px;white-space:nowrap;color:#373d3f;letter-spacing:0.231px;">Medium</div><div style="position:absolute;left:522.60px;top:734.60px;font-size:9.60px;line-height:13px;height:13px;white-space:nowrap;color:#373d3f;letter-spacing:0.018px;">High</div><div style="position:absolute;left:562.70px;top:734.60px;font-size:9.60px;line-height:13px;height:13px;white-space:nowrap;color:#373d3f;letter-spacing:0.109px;">Extreme</div><div style="position:absolute;left:978.21px;top:503.20px;font-size:8.80px;line-height:12px;height:12px;white-space:nowrap;color:#373d3f;">15</div><div style="position:absolute;left:978.21px;top:542.46px;font-size:8.80px;line-height:12px;height:12px;white-space:nowrap;color:#373d3f;">12</div><div style="position:absolute;left:983.11px;top:581.72px;font-size:8.80px;line-height:12px;height:12px;white-space:nowrap;color:#373d3f;">9</div><div style="position:absolute;left:983.11px;top:620.98px;font-size:8.80px;line-height:12px;height:12px;white-space:nowrap;color:#373d3f;">6</div><div style="position:absolute;left:983.11px;top:660.24px;font-size:8.80px;line-height:12px;height:12px;white-space:nowrap;color:#373d3f;">3</div><div style="position:absolute;left:983.11px;top:699.50px;font-size:8.80px;line-height:12px;height:12px;white-space:nowrap;color:#373d3f;">0</div><div style="position:absolute;left:997.47px;top:717.60px;font-size:9.20px;line-height:13px;height:13px;white-space:nowrap;color:#373d3f;">16 Oct</div><div style="position:absolute;left:1131.74px;top:717.60px;font-size:9.20px;line-height:13px;height:13px;white-space:nowrap;color:#373d3f;">24 Oct</div><div style="position:absolute;left:1264.11px;top:717.60px;font-size:9.20px;line-height:13px;height:13px;white-space:nowrap;color:#373d3f;">Nov '23</div><div style="position:absolute;left:1382.48px;top:717.60px;font-size:9.20px;line-height:13px;height:13px;white-space:nowrap;color:#373d3f;">08 Nov</div><div style="position:absolute;left:1516.75px;top:717.60px;font-size:9.20px;line-height:13px;height:13px;white-space:nowrap;color:#373d3f;">16 Nov</div><div style="position:absolute;left:1651.02px;top:717.60px;font-size:9.20px;line-height:13px;height:13px;white-space:nowrap;color:#373d3f;">24 Nov</div><div style="position:absolute;left:1767.63px;top:717.60px;font-size:9.20px;line-height:13px;height:13px;white-space:nowrap;color:#373d3f;">Dec '23</div><div style="position:absolute;left:1337.00px;top:470.00px;font-size:11.20px;line-height:16px;height:16px;white-space:nowrap;color:#373d3f;letter-spacing:-0.030px;font-weight:700;">Scan Distribution by Scan Profile</div><div style="position:absolute;left:1208.60px;top:734.40px;font-size:9.60px;line-height:13px;height:13px;white-space:nowrap;color:#373d3f;letter-spacing:0.114px;">On-premise Scan</div><div style="position:absolute;left:1305.20px;top:734.40px;font-size:9.60px;line-height:13px;height:13px;white-space:nowrap;color:#373d3f;letter-spacing:-0.021px;">Full Web Scan</div><div style="position:absolute;left:1387.50px;top:734.40px;font-size:9.60px;line-height:13px;height:13px;white-space:nowrap;color:#373d3f;letter-spacing:-0.024px;">Full Mobile Scan</div><div style="position:absolute;left:1478.50px;top:734.40px;font-size:9.60px;line-height:13px;height:13px;white-space:nowrap;color:#373d3f;letter-spacing:0.036px;">Fast Mobile Scan</div><div style="position:absolute;left:1573.50px;top:734.40px;font-size:9.60px;line-height:13px;height:13px;white-space:nowrap;color:#373d3f;letter-spacing:0.119px;">Full Network Scan</div><div style="position:absolute;left:460.71px;top:835.60px;font-size:9.20px;line-height:13px;height:13px;white-space:nowrap;color:#fff;">14957</div><div style="position:absolute;left:388.21px;top:859.30px;font-size:9.20px;line-height:13px;height:13px;white-space:nowrap;color:#fff;">12081</div><div style="position:absolute;left:334.67px;top:883.00px;font-size:9.20px;line-height:13px;height:13px;white-space:nowrap;color:#fff;">9860</div><div style="position:absolute;left:327.11px;top:906.70px;font-size:9.20px;line-height:13px;height:13px;white-space:nowrap;color:#fff;">8114</div><div style="position:absolute;left:313.77px;top:930.40px;font-size:9.20px;line-height:13px;height:13px;white-space:nowrap;color:#fff;">6992</div><div style="position:absolute;left:756.00px;top:835.60px;font-size:9.20px;line-height:13px;height:13px;white-space:nowrap;color:#fff;width:12.9px;overflow:hidden;">299</div><div style="position:absolute;left:387.60px;top:789.00px;font-size:11.20px;line-height:16px;height:16px;white-space:nowrap;color:#373d3f;letter-spacing:0.037px;font-weight:700;">Vulnerability Distribution by Asset</div><div style="position:absolute;left:1022.50px;top:833.30px;font-size:9.00px;line-height:13px;height:13px;white-space:nowrap;color:#454b4d;letter-spacing:-0.311px;">TASK HIJACKING</div><div style="position:absolute;left:1015.30px;top:857.60px;font-size:9.00px;line-height:13px;height:13px;white-space:nowrap;color:#454b4d;letter-spacing:-0.417px;">INTENT SPOOFING</div><div style="position:absolute;left:991.30px;top:881.90px;font-size:9.00px;line-height:13px;height:13px;white-space:nowrap;color:#454b4d;letter-spacing:-0.485px;">WEB TECH STACK FING...</div><div style="position:absolute;left:1000.30px;top:906.20px;font-size:9.00px;line-height:13px;height:13px;white-space:nowrap;color:#454b4d;letter-spacing:-0.354px;">CALL TO LOGGING API</div><div style="position:absolute;left:1000.80px;top:930.50px;font-size:9.00px;line-height:13px;height:13px;white-space:nowrap;color:#454b4d;letter-spacing:-0.519px;">STRINGS BPLIST FILES</div><div style="position:absolute;left:1346.50px;top:789.00px;font-size:11.20px;line-height:16px;height:16px;white-space:nowrap;color:#373d3f;letter-spacing:-0.001px;font-weight:700;">Most Common Vulnerabilities</div></div>
</div>
<div style="position:absolute;left:0;top:0;width:1911px;height:944px;background:rgba(0,0,0,0.171)"></div>
<div style="position:absolute;left:0;top:0;width:205px;height:944px;background:#fff;box-shadow:0 6px 8px -4px rgba(0,0,0,.2),0 13px 19px 2px rgba(0,0,0,.14),0 5px 24px 4px rgba(0,0,0,.12)"></div>
<svg style="position:absolute;left:11.55px;top:8.55px;overflow:visible;" width="34.91" height="34.91" viewBox="-24 -24 48 48"><circle r="22" fill="#1c678c"/><circle r="20.4" fill="none" stroke="#fff" stroke-width="1.1"/><path d="M0,-20V-9.5M0,-6.5V6.5M0,9.5V20M-2.6,-5V5M2.6,-5V5M-2.6,-5L-4.6,-7.5V-12.5M2.6,-5L4.6,-7.5V-12.5M-2.6,5L-4.6,7.5V12.5M2.6,5L4.6,7.5V12.5M-2.2,-13V-10.2A2.2,2.2 0 0,0 2.2,-10.2V-13M-2.2,13V10.2A2.2,2.2 0 0,1 2.2,10.2V13M-7,-14V-18.8M7,-14V-18.8M-7,14V18.8M7,14V18.8M-4.6,-15V-19.6M4.6,-15V-19.6M-4.6,15V19.6M4.6,15V19.6M-7.2,-12.5A14.4,14.4 0 0,0 -7.2,12.5M7.2,-12.5A14.4,14.4 0 0,1 7.2,12.5M-5.4,-9A10.5,10.5 0 0,0 -5.4,9M5.4,-9A10.5,10.5 0 0,1 5.4,9M-20,0H-7M-19.6,-3H-14L-12.5,-2.2H-8M-19.6,3H-14L-12.5,2.2H-8M-18.6,-7H-14L-11.5,-4.6H-9M-18.6,7H-14L-11.5,4.6H-9M-16.6,-11H-13L-10,-8M-16.6,11H-13L-10,8M-10,-17.5L-8.5,-15.5V-13.5L-6.5,-12M-10,17.5L-8.5,15.5V13.5L-6.5,12M8,-2.6H13M8,0H14M8,2.6H13M14.5,-13.5L12,-11M14.5,13.5L12,11" fill="none" stroke="#fff" stroke-width="1.3" stroke-linecap="butt"/></svg>
<div style="position:absolute;left:152px;top:13.9px;width:40px;height:22.6px;border-radius:4px;background:#f4f4f4"></div>
<svg style="position:absolute;left:164.80px;top:18.60px;" width="14.40" height="14.40" viewBox="0 0 24 24"><path fill="#1a1a1a" d="M19,6.41L17.59,5L12,10.59L6.41,5L5,6.41L10.59,12L5,17.59L6.41,19L12,13.41L17.59,19L19,17.59L13.41,12L19,6.41Z"/></svg>
<div style="position:absolute;left:0.00px;top:58.00px;width:205.00px;height:1.00px;background:rgba(0,0,0,.13);"></div>
<div style="position:absolute;left:0.00px;top:104.00px;width:205.00px;height:45.00px;background:#20556f;"></div>
<div style="position:absolute;left:6.50px;top:195.00px;width:192.00px;height:44.60px;background:#f4f4f4;"></div>
<svg style="position:absolute;left:12.70px;top:70.70px;" width="19.20" height="19.20" viewBox="0 0 24 24"><path fill="#6b6b6b" d="M13.13,22.19L11.5,18.36C13.07,17.78 14.54,17 15.9,16.09L13.13,22.19M5.64,12.5L1.81,10.87L7.91,8.1C7,9.46 6.22,10.93 5.64,12.5M19.22,4C19.5,4 19.75,4 19.96,4.05C20.13,5.44 19.94,8.3 16.66,11.58C14.96,13.29 12.93,14.6 10.65,15.47L8.5,13.37C9.42,11.06 10.73,9.03 12.42,7.34C15.18,4.58 17.64,4 19.22,4M19.22,2C17.24,2 14.24,2.69 11,5.93C8.81,8.12 7.5,10.53 6.65,12.64C6.37,13.39 6.56,14.21 7.11,14.77L9.24,16.89C9.62,17.27 10.13,17.5 10.66,17.5C10.89,17.5 11.13,17.44 11.36,17.35C13.5,16.53 15.88,15.19 18.07,13C23.73,7.34 21.61,2.39 21.61,2.39S20.7,2 19.22,2M14.54,9.46C13.76,8.68 13.76,7.41 14.54,6.63S16.59,5.85 17.37,6.63C18.14,7.41 18.15,8.68 17.37,9.46C16.59,10.24 15.32,10.24 14.54,9.46M8.88,16.53L7.47,15.12L8.88,16.53M6.24,22L9.88,18.36C9.54,18.27 9.21,18.12 8.91,17.91L4.83,22H6.24M2,22H3.41L8.18,17.24L6.76,15.83L2,20.59V22M2,19.17L6.09,15.09C5.88,14.79 5.73,14.47 5.64,14.12L2,17.76V19.17Z"/></svg>
<svg style="position:absolute;left:12.70px;top:116.70px;" width="19.20" height="19.20" viewBox="0 0 24 24"><path fill="#fff" d="M13,3V9H21V3M13,21H21V11H13M3,21H11V15H3M3,13H11V3H3V13Z"/></svg>
<svg style="position:absolute;left:12.70px;top:162.70px;" width="19.20" height="19.20" viewBox="0 0 24 24"><path fill="#1c6384" d="M21,11C21,16.55 17.16,21.74 12,23C6.84,21.74 3,16.55 3,11V5L12,1L21,5V11M12,21C15.75,20 19,15.54 19,11.22V6.3L12,3.18L5,6.3V11.22C5,15.54 8.25,20 12,21Z"/></svg>
<svg style="position:absolute;left:162.90px;top:162.00px;" width="19.20" height="19.20" viewBox="0 0 24 24"><path fill="#1c6384" d="M7,15L12,10L17,15H7Z"/></svg>
<svg style="position:absolute;left:12.70px;top:207.70px;" width="19.20" height="19.20" viewBox="0 0 24 24"><path fill="#6b6b6b" d="M19,20H17V23H15V20H12V18H15V15H17V18H20V20H19M12,1L3,5V11C3,16.55 6.84,21.74 12,23C12.3,22.93 12.6,22.84 12.9,22.74C12.3,22.2 11.8,21.55 11.5,20.8C8,19.6 5,15.35 5,11.22V6.3L12,3.18L19,6.3V11.22C19,11.75 18.95,12.3 18.85,12.83C19.55,12.97 20.2,13.24 20.8,13.62C20.93,12.75 21,11.88 21,11V5L12,1Z"/></svg>
<svg style="position:absolute;left:12.70px;top:251.90px;" width="19.20" height="19.20" viewBox="0 0 24 24"><path fill="#6b6b6b" d="M21,11C21,16.55 17.16,21.74 12,23C6.84,21.74 3,16.55 3,11V5L12,1L21,5V11M12,21C15.75,20 19,15.54 19,11.22V6.3L12,3.18L5,6.3V11.22C5,15.54 8.25,20 12,21Z"/></svg>
<svg style="position:absolute;left:12.70px;top:296.70px;" width="19.20" height="19.20" viewBox="0 0 24 24"><path fill="#6b6b6b" d="M12,1L3,5V11C3,16.55 6.84,21.74 12,23C12.3,22.93 12.6,22.84 12.9,22.74C12.3,22.2 11.8,21.55 11.5,20.8C8,19.6 5,15.35 5,11.22V6.3L12,3.18L19,6.3V11.22C19,11.75 18.95,12.3 18.85,12.83C19.55,12.97 20.2,13.24 20.8,13.62C20.93,12.75 21,11.88 21,11V5L12,1M18,14.5V13L15.75,15.25L18,17.5V16C19.38,16 20.5,17.12 20.5,18.5C20.5,18.9 20.41,19.28 20.24,19.62L21.33,20.71C21.75,20.08 22,19.32 22,18.5C22,16.29 20.21,14.5 18,14.5M18,21C16.62,21 15.5,19.88 15.5,18.5C15.5,18.1 15.59,17.72 15.76,17.38L14.67,16.29C14.25,16.92 14,17.68 14,18.5C14,20.71 15.79,22.5 18,22.5V24L20.25,21.75L18,19.5V21Z"/></svg>
<svg style="position:absolute;left:12.70px;top:342.70px;" width="19.20" height="19.20" viewBox="0 0 24 24"><path fill="#6b6b6b" d="M20,12A2,2 0 0,0 22,14V18A2,2 0 0,1 20,20H4A2,2 0 0,1 2,18V14C3.11,14 4,13.11 4,12A2,2 0 0,0 2,10V6C2,4.89 2.9,4 4,4H20A2,2 0 0,1 22,6V10A2,2 0 0,0 20,12M16.5,16.25C16.5,14.75 13.5,14 12,14C10.5,14 7.5,14.75 7.5,16.25V17H16.5V16.25M12,12.25A2.25,2.25 0 0,0 14.25,10A2.25,2.25 0 0,0 12,7.75A2.25,2.25 0 0,0 9.75,10A2.25,2.25 0 0,0 12,12.25Z"/></svg>
<svg style="position:absolute;left:12.70px;top:388.70px;" width="19.20" height="19.20" viewBox="0 0 24 24"><path fill="#6b6b6b" d="M19.07,4.93L17.66,6.34C19.1,7.79 20,9.79 20,12A8,8 0 0,1 12,20A8,8 0 0,1 4,12C4,7.92 7.05,4.56 11,4.07V6.09C8.16,6.57 6,9.03 6,12A6,6 0 0,0 12,18A6,6 0 0,0 18,12C18,10.34 17.33,8.84 16.24,7.76L14.83,9.17C15.55,9.9 16,10.9 16,12A4,4 0 0,1 12,16A4,4 0 0,1 8,12C8,10.14 9.28,8.59 11,8.14V10.28C10.4,10.63 10,11.26 10,12A2,2 0 0,0 12,14A2,2 0 0,0 14,12C14,11.26 13.6,10.62 13,10.28V2H12A10,10 0 0,0 2,12A10,10 0 0,0 12,22A10,10 0 0,0 22,12C22,9.24 20.88,6.74 19.07,4.93Z"/></svg>
<svg style="position:absolute;left:162.90px;top:388.70px;" width="19.20" height="19.20" viewBox="0 0 24 24"><path fill="#5a5a5a" d="M7,10L12,15L17,10H7Z"/></svg>
<svg style="position:absolute;left:12.70px;top:433.70px;" width="19.20" height="19.20" viewBox="0 0 24 24"><path fill="#6b6b6b" d="M2.3,20.28L11.9,10.68L10.5,9.26L9.78,9.97C9.39,10.36 8.76,10.36 8.37,9.97L7.66,9.26C7.27,8.87 7.27,8.24 7.66,7.85L13.32,2.19C13.71,1.8 14.34,1.8 14.73,2.19L15.44,2.9C15.83,3.29 15.83,3.92 15.44,4.31L14.73,5L16.15,6.43C16.54,6.04 17.17,6.04 17.56,6.43C17.95,6.82 17.95,7.46 17.56,7.85L18.97,9.26L19.68,8.55C20.07,8.16 20.71,8.16 21.1,8.55L21.8,9.26C22.19,9.65 22.19,10.29 21.8,10.68L16.15,16.33C15.76,16.72 15.12,16.72 14.73,16.33L14.03,15.63C13.63,15.24 13.63,14.6 14.03,14.21L14.73,13.5L13.32,12.09L3.71,21.7C3.32,22.09 2.69,22.09 2.3,21.7C1.91,21.31 1.91,20.67 2.3,20.28M20,19A2,2 0 0,1 22,21V22H12V21A2,2 0 0,1 14,19H20Z"/></svg>
<svg style="position:absolute;left:162.90px;top:433.70px;" width="19.20" height="19.20" viewBox="0 0 24 24"><path fill="#5a5a5a" d="M7,10L12,15L17,10H7Z"/></svg>
<svg style="position:absolute;left:12.70px;top:478.00px;" width="19.20" height="19.20" viewBox="0 0 24 24"><path fill="#6b6b6b" d="M9,3V18H12V3H9M12,5L16,18L19,17L15,4L12,5M5,5V18H8V5H5M3,19V21H21V19H3Z"/></svg>
<svg style="position:absolute;left:162.90px;top:478.00px;" width="19.20" height="19.20" viewBox="0 0 24 24"><path fill="#5a5a5a" d="M7,10L12,15L17,10H7Z"/></svg>
<svg style="position:absolute;left:12.70px;top:523.70px;" width="19.20" height="19.20" viewBox="0 0 24 24"><path fill="#6b6b6b" d="M12,8A4,4 0 0,1 16,12A4,4 0 0,1 12,16A4,4 0 0,1 8,12A4,4 0 0,1 12,8M12,10A2,2 0 0,0 10,12A2,2 0 0,0 12,14A2,2 0 0,0 14,12A2,2 0 0,0 12,10M10,22C9.75,22 9.54,21.82 9.5,21.58L9.13,18.93C8.5,18.68 7.96,18.34 7.44,17.94L4.95,18.95C4.73,19.03 4.46,18.95 4.34,18.73L2.34,15.27C2.21,15.05 2.27,14.78 2.46,14.63L4.57,12.97L4.5,12L4.57,11L2.46,9.37C2.27,9.22 2.21,8.95 2.34,8.73L4.34,5.27C4.46,5.05 4.73,4.96 4.95,5.05L7.44,6.05C7.96,5.66 8.5,5.32 9.13,5.07L9.5,2.42C9.54,2.18 9.75,2 10,2H14C14.25,2 14.46,2.18 14.5,2.42L14.87,5.07C15.5,5.32 16.04,5.66 16.56,6.05L19.05,5.05C19.27,4.96 19.54,5.05 19.66,5.27L21.66,8.73C21.79,8.95 21.73,9.22 21.54,9.37L19.43,11L19.5,12L19.43,13L21.54,14.63C21.73,14.78 21.79,15.05 21.66,15.27L19.66,18.73C19.54,18.95 19.27,19.04 19.05,18.95L16.56,17.95C16.04,18.34 15.5,18.68 14.87,18.93L14.5,21.58C14.46,21.82 14.25,22 14,22H10M11.25,4L10.88,6.61C9.68,6.86 8.62,7.5 7.85,8.39L5.44,7.35L4.69,8.65L6.8,10.2C6.4,11.37 6.4,12.64 6.8,13.8L4.68,15.36L5.43,16.66L7.86,15.62C8.63,16.5 9.68,17.14 10.87,17.38L11.24,20H12.76L13.13,17.39C14.32,17.14 15.37,16.5 16.14,15.62L18.57,16.66L19.32,15.36L17.2,13.81C17.6,12.64 17.6,11.37 17.2,10.2L19.31,8.65L18.56,7.35L16.15,8.39C15.38,7.5 14.32,6.86 13.12,6.62L12.75,4H11.25Z"/></svg>
<svg style="position:absolute;left:162.90px;top:523.70px;" width="19.20" height="19.20" viewBox="0 0 24 24"><path fill="#5a5a5a" d="M7,10L12,15L17,10H7Z"/></svg>
<svg style="position:absolute;left:12.70px;top:569.70px;" width="19.20" height="19.20" viewBox="0 0 24 24"><path fill="#6b6b6b" d="M12,3L1,9L5,11.18V17.18L12,21L19,17.18V11.18L21,10.09V17H23V9L12,3M18.82,9L12,12.72L5.18,9L12,5.28L18.82,9M17,16L12,18.72L7,16V12.27L12,15L17,12.27V16Z"/></svg>
<svg style="position:absolute;left:12.70px;top:615.70px;" width="19.20" height="19.20" viewBox="0 0 24 24"><path fill="#6b6b6b" d="M5,3H19A2,2 0 0,1 21,5V19A2,2 0 0,1 19,21H5A2,2 0 0,1 3,19V5A2,2 0 0,1 5,3M5,5V15H8.5C8.5,16.9 10.1,18.5 12,18.5C13.9,18.5 15.5,16.9 15.5,15H19V5H5M5,19H19V17H16.9C16.1,19 14.2,20.3 12,20.3C9.8,20.3 7.9,19 7.1,17H5V19M7,7H17V9H7V7M7,11H17V13H7V11Z"/></svg>
<div style="position:absolute;left:0.00px;top:329.00px;width:205.00px;height:1.00px;background:rgba(0,0,0,.13);"></div>
<div style="position:absolute;left:0.00px;top:375.00px;width:205.00px;height:1.00px;background:rgba(0,0,0,.13);"></div>
<div style="position:absolute;left:0.00px;top:510.80px;width:205.00px;height:1.00px;background:rgba(0,0,0,.13);"></div>
<div style="position:absolute;left:0.00px;top:556.00px;width:205.00px;height:1.00px;background:rgba(0,0,0,.13);"></div>
<div style="position:absolute;left:0.00px;top:602.00px;width:205.00px;height:1.00px;background:rgba(0,0,0,.13);"></div>
<svg style="position:absolute;left:30.38px;top:864.98px;overflow:visible;filter:drop-shadow(0 2px 3px rgba(0,0,0,.35));" width="48.44" height="48.44" viewBox="-24 -24 48 48"><circle r="22" fill="#165f86"/><circle r="20.4" fill="none" stroke="#fff" stroke-width="1.1"/><path d="M0,-20V-9.5M0,-6.5V6.5M0,9.5V20M-2.6,-5V5M2.6,-5V5M-2.6,-5L-4.6,-7.5V-12.5M2.6,-5L4.6,-7.5V-12.5M-2.6,5L-4.6,7.5V12.5M2.6,5L4.6,7.5V12.5M-2.2,-13V-10.2A2.2,2.2 0 0,0 2.2,-10.2V-13M-2.2,13V10.2A2.2,2.2 0 0,1 2.2,10.2V13M-7,-14V-18.8M7,-14V-18.8M-7,14V18.8M7,14V18.8M-4.6,-15V-19.6M4.6,-15V-19.6M-4.6,15V19.6M4.6,15V19.6M-7.2,-12.5A14.4,14.4 0 0,0 -7.2,12.5M7.2,-12.5A14.4,14.4 0 0,1 7.2,12.5M-5.4,-9A10.5,10.5 0 0,0 -5.4,9M5.4,-9A10.5,10.5 0 0,1 5.4,9M-20,0H-7M-19.6,-3H-14L-12.5,-2.2H-8M-19.6,3H-14L-12.5,2.2H-8M-18.6,-7H-14L-11.5,-4.6H-9M-18.6,7H-14L-11.5,4.6H-9M-16.6,-11H-13L-10,-8M-16.6,11H-13L-10,8M-10,-17.5L-8.5,-15.5V-13.5L-6.5,-12M-10,17.5L-8.5,15.5V13.5L-6.5,12M8,-2.6H13M8,0H14M8,2.6H13M14.5,-13.5L12,-11M14.5,13.5L12,11" fill="none" stroke="#fff" stroke-width="1.3" stroke-linecap="butt"/></svg>
<div style="position:absolute;left:62px;top:865.9px;width:16px;height:16px;border-radius:50%;background:#d90000"></div>
<div style="position:absolute;left:1852.9px;top:885.9px;width:45px;height:45px;border-radius:50%;background:#086b9c;box-shadow:0 3px 5px -1px rgba(0,0,0,.2),0 5px 8px rgba(0,0,0,.14),0 1px 14px rgba(0,0,0,.12)"></div>
<div style="position:absolute;left:1911.00px;top:0.00px;width:9.00px;height:944.00px;background:#f1f1f1;"></div>
<div style="position:absolute;left:1911px;top:1px;width:9px;height:616px;border-radius:4.5px;background:#c1c1c1"></div>
<div style="position:absolute;left:0;top:0;width:1920px;height:944px;will-change:transform"><div style="position:absolute;left:41.60px;top:71.10px;font-size:13.40px;line-height:19px;height:19px;white-space:nowrap;color:#262626;letter-spacing:-0.156px;">Get Started (13/13)</div><div style="position:absolute;left:41.60px;top:117.10px;font-size:13.40px;line-height:19px;height:19px;white-space:nowrap;color:#fff;letter-spacing:0.105px;">Dashboard</div><div style="position:absolute;left:41.60px;top:163.10px;font-size:13.40px;line-height:19px;height:19px;white-space:nowrap;color:#1c6384;letter-spacing:-0.140px;">Scanning</div><div style="position:absolute;left:41.60px;top:208.10px;font-size:13.40px;line-height:19px;height:19px;white-space:nowrap;color:#262626;letter-spacing:-0.325px;">New Scan</div><div style="position:absolute;left:41.60px;top:252.30px;font-size:13.40px;line-height:19px;height:19px;white-space:nowrap;color:#262626;letter-spacing:-0.461px;">Scans</div><div style="position:absolute;left:41.60px;top:297.10px;font-size:13.40px;line-height:19px;height:19px;white-space:nowrap;color:#262626;letter-spacing:0.148px;">Monitoring</div><div style="position:absolute;left:41.60px;top:343.10px;font-size:13.40px;line-height:19px;height:19px;white-space:nowrap;color:#262626;letter-spacing:0.067px;">Remediation</div><div style="position:absolute;left:41.60px;top:389.10px;font-size:13.40px;line-height:19px;height:19px;white-space:nowrap;color:#262626;letter-spacing:0.135px;">Attack Surface</div><div style="position:absolute;left:41.60px;top:434.10px;font-size:13.40px;line-height:19px;height:19px;white-space:nowrap;color:#262626;letter-spacing:-0.325px;">Policies</div><div style="position:absolute;left:41.60px;top:478.40px;font-size:13.40px;line-height:19px;height:19px;white-space:nowrap;color:#262626;letter-spacing:0.323px;">Library</div><div style="position:absolute;left:41.60px;top:524.10px;font-size:13.40px;line-height:19px;height:19px;white-space:nowrap;color:#262626;letter-spacing:-0.074px;">Settings</div><div style="position:absolute;left:41.60px;top:570.10px;font-size:13.40px;line-height:19px;height:19px;white-space:nowrap;color:#262626;letter-spacing:0.021px;">Learning Center</div><div style="position:absolute;left:41.60px;top:616.10px;font-size:13.40px;line-height:19px;height:19px;white-space:nowrap;color:#262626;letter-spacing:-0.405px;">Plans</div><div style="position:absolute;left:67.33px;top:867.70px;font-size:9.60px;line-height:13px;height:13px;white-space:nowrap;color:#fff;font-weight:700;">2</div><div style="position:absolute;left:1869.28px;top:893.80px;font-size:22.00px;line-height:31px;height:31px;white-space:nowrap;color:#fff;">?</div></div>
<div style="position:absolute;left:0.00px;top:0.00px;width:1920.00px;height:191.40px;background:rgba(0,0,0,0.494);"></div>
<div style="position:absolute;left:0.00px;top:243.00px;width:1920.00px;height:701.00px;background:rgba(0,0,0,0.494);"></div>
<div style="position:absolute;left:0.00px;top:191.40px;width:6.30px;height:51.60px;background:rgba(0,0,0,0.494);"></div>
<div style="position:absolute;left:198.00px;top:191.40px;width:1722.00px;height:51.60px;background:rgba(0,0,0,0.494);"></div>
<div style="position:absolute;left:-3.7px;top:181.4px;width:211.7px;height:72px;box-sizing:border-box;border:10.2px solid #ffd340"></div>
<svg style="position:absolute;left:0;top:0" width="1920" height="944" viewBox="0 0 1920 944"><g fill="none" stroke="#ffd340" stroke-width="11.8" stroke-linecap="round" stroke-linejoin="round"><path d="M404,144C398,190 340,222 264,217.3"/><path d="M288.2,188.6L262,217.2L288.2,245"/></g></svg>
<div style="position:absolute;left:0.00px;top:0.00px;width:1920.00px;height:1.25px;background:rgb(76,77,79);"></div>
<svg style="position:absolute;left:1853px;top:10px" width="32" height="32" viewBox="0 0 32 32"><defs><filter id="sun" x="0" y="0" width="100%" height="100%" color-interpolation-filters="sRGB"><feTurbulence type="fractalNoise" baseFrequency="0.55" numOctaves="3" seed="11" result="n"/><feColorMatrix in="n" type="matrix" values="0.7 0 0 0 0.32  0.8 0 0 0 -0.13  0 0 0 0 0.035  0 0 0 0 1"/></filter><clipPath id="avc"><circle cx="16" cy="16" r="15.9"/></clipPath></defs><g clip-path="url(#avc)"><rect width="32" height="32" fill="#b4500c"/><rect width="32" height="32" filter="url(#sun)" opacity="1"/><circle cx="15.6" cy="19.5" r="0.8" fill="#e9cdb2"/><circle cx="9.3" cy="19" r="0.5" fill="#e8c9a8"/><circle cx="20.6" cy="19.2" r="0.5" fill="#e8c9a8"/><circle cx="19.5" cy="9.3" r="0.6" fill="#e0b890"/><circle cx="21" cy="14.5" r="0.45" fill="#e0b890"/></g></svg>
</body></html>
